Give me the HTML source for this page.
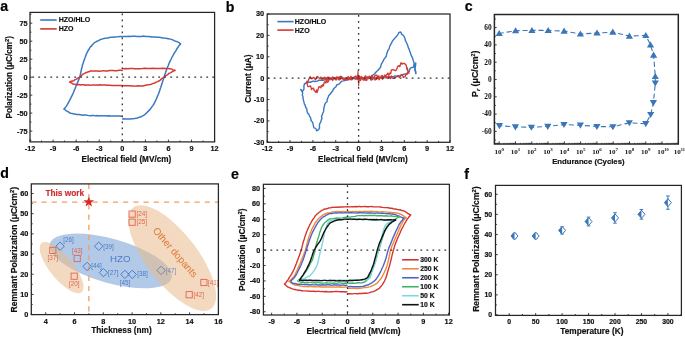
<!DOCTYPE html>
<html><head><meta charset="utf-8"><style>
html,body{margin:0;padding:0;background:#fff;}
svg{display:block;filter:blur(0.35px);}
</style></head><body>
<svg width="685" height="337" viewBox="0 0 685 337">
<rect width="685" height="337" fill="#fff"/>
<text x="0.2" y="10.9" font-family='"Liberation Sans", sans-serif' font-size="14.2" font-weight="bold" text-anchor="start" fill="#000" stroke="#000" stroke-width="0.18" >a</text>
<polyline points="64.1,109.11 65.05,109.7 66.4,110.93 67.93,111.67 69.4,112.72 70.77,113.17 72.17,113.4 73.58,113.93 75,113.97 76.19,114.4 77.23,114.38 78.61,114.53 80.8,114.86 82.37,115.16 83.94,114.91 85.85,115.07 87.77,115.38 89.98,115.64 92.19,115.56 93.83,115.53 95.46,115.88 97.1,115.47 98.64,115.92 100.18,115.67 101.72,115.64 103.26,115.67 105.06,115.8 106.87,116.09 108.67,115.8 110.47,116.04 112.14,116.1 113.82,115.99 115.49,116.11 117.16,115.9 118.71,115.92 120.25,116.03 121.8,116.2" fill="none" stroke="#3a78c0" stroke-width="1.5" stroke-linejoin="round" stroke-linecap="round" />
<polyline points="122.6,118.89 123.83,118.84 125.59,118.91 127.65,119.12 129.8,118.98 132.14,118.66 134.74,118.56 137.32,118.03 139.6,117.17 141.45,116.58 143.05,115.67 144.55,114.78 146.1,113.41 147.78,111.64 149.5,110.2 151.17,107.81 152.7,105.86 154.07,103.78 155.31,101.08 156.48,98.71 157.6,95.87 158.15,94.77 158.7,93.41 159.22,91.81 159.75,90.46 160.24,88.71 160.73,87.43 161.6,84.75 162.33,82.54 162.93,80.56 163.5,78.94 164.1,77.12 164.76,74.89 165.43,72.97 166.11,70.68 166.8,69.1 167.49,67.28 168.18,65.72 168.88,63.97 169.6,62.09 170.33,60.59 171.08,59.24 171.84,57.47 172.6,56.28 173.38,54.75 174.17,53.36 174.95,52.03 175.7,51.13 176.42,49.61 177.11,48.51 177.78,47.5 178.4,46.79 179.02,45.53 179.62,44.95 180.14,44.37 180.5,43.9" fill="none" stroke="#3a78c0" stroke-width="1.5" stroke-linejoin="round" stroke-linecap="round" />
<polyline points="180.5,44.09 180.15,43.77 179.67,43.38 179,42.6 178.1,42.16 176.96,41.57 175.59,41.2 174.01,40.61 172.2,39.63 170.3,39.12 168.27,38.67 165.83,38.21 164.26,38.11 162.7,37.94 160.66,37.55 158.61,37.18 157,37.23 155.39,37.05 153.77,36.99 152.07,37.05 150.36,36.78 148.65,36.56 147,36.53 145.35,36.47 143.7,36.08 142.03,36.49 140.36,36.42 138.68,36.45 136.95,36.46 135.21,36.3 133.47,36.34 131.88,36.26 130.29,36.58 128.7,36.36 126.85,36.42 125,36.55 122.9,36.56 121.96,36.65 121.28,36.51 120,36.55 117.76,36.77 115.06,36.94 112.34,37.3 110,37.36 108.2,38.01 106.69,38.11 105.34,38.13 104,38.48 102.66,38.87 101.38,39.25 100.16,39.55 99,40.37 97.92,40.95 96.91,41.23 95.94,41.83 95,42.29 94.08,43.03 93.19,43.95 92.33,44.77 91.5,45.96 90.71,46.59 89.95,47.52 89.22,49.06 88.5,50.01 87.79,51.08 87.11,52.63 86.44,53.79 85.8,55.51 85.19,57.28 84.61,58.84 84.04,60.41 83.5,61.88 82.97,63.63 82.46,65.26 81.97,67.33 81.5,69.02 81.11,70.95 80.77,72.55 80.37,74.4 79.8,76.76 78.97,79.15 77.95,81.59 76.88,84.08 75.9,86.46 75.05,88.58 74.26,90.36 73.47,92.5 72.6,94.43 71.64,96.33 70.62,98.41 69.56,100.57 68.5,102.48 67.32,104.61 66.04,106.63 64.9,108.02 64.1,109.2" fill="none" stroke="#3a78c0" stroke-width="1.5" stroke-linejoin="round" stroke-linecap="round" />
<polyline points="174.9,70.46 174.14,70.24 173.08,69.85 171.7,69.12 170,68.73 167.86,68.55 165.32,68.39 162.62,68.3 160,68.47 157.5,68.58 155,68.51 152.5,68.28 150,68.39 147.5,68.51 145,68.14 142.5,68.55 140,68.75 137.43,68.7 134.83,68.71 132.3,68.57 130,68.41 127.83,68.78 125.78,68.51 124.03,68.78 122.8,68.6" fill="none" stroke="#d23a36" stroke-width="1.5" stroke-linejoin="round" stroke-linecap="round" />
<polyline points="122.2,70.58 120.64,70.28 119.08,70.34 116.83,70.73 114.58,70.67 112.94,70.38 111.31,70.4 109.67,70.47 107.48,70.98 105.3,70.98 103.4,70.63 101.5,71.08 99.67,71.2 97.84,71.03 96.22,70.88 94.59,71.03 92,70.88 90.35,70.93 89.42,71.65 88.78,71.64 88,71.82 87,72.38 86,72.44 85,73.16 84,73.7 83.02,74.07 82.06,74.98 81.06,75.92 80,76.74 78.85,77.73 77.62,78.29 76.37,79.09 75.1,79.58 73.7,80.68 72.19,80.94 70.84,81.52 69.9,81.9" fill="none" stroke="#d23a36" stroke-width="1.5" stroke-linejoin="round" stroke-linecap="round" />
<polyline points="69.9,81.95 70.6,82.59 71.59,82.95 72.84,83.93 74.3,84.2 75.72,84.54 77.19,84.75 79.25,84.6 80.82,84.91 82.4,84.81 84.01,84.72 85.63,85.22 87.24,84.87 88.76,85.05 90.29,85.2 91.81,85.1 93.34,84.96 94.93,85.08 96.51,85.1 98.1,85.24 99.69,84.83 101.56,85.11 103.43,84.94 105.3,84.97 106.88,85.3 108.45,85.17 110.03,85.24 112.2,85.43 114.37,85.59 116.31,85.38 118.25,85.55 119.92,85.55 121.6,85.61 124.1,85.79 125.9,85.71 127.6,85.8 129.8,85.79 131.3,86.08 132.81,85.96 134.53,86.08 136.25,86.14 138,85.72 139.74,85.89 141.32,86.04 142.9,85.9 145.66,85.19 148.21,84.77 150.56,84.46 152.7,83.64 154.59,83.03 156.26,82.11 157.76,81.59 159.2,80.77 160.54,79.93 161.75,78.55 162.91,77.94 164.1,77 165.3,75.81 166.49,75.4 167.7,74.62 169,73.33 170.54,72.86 172.26,71.58 173.82,70.78 174.9,70.2" fill="none" stroke="#d23a36" stroke-width="1.5" stroke-linejoin="round" stroke-linecap="round" />
<line x1="30" y1="77.15" x2="214.6" y2="77.15" stroke="#333" stroke-width="1.3" stroke-dasharray="1.8 4.2" stroke-dashoffset="-2.3"/>
<line x1="122.3" y1="12.4" x2="122.3" y2="141.9" stroke="#333" stroke-width="1.3" stroke-dasharray="1.8 4.2" stroke-dashoffset="-1.0"/>
<rect x="30" y="12.4" width="184.6" height="129.5" fill="none" stroke="#262626" stroke-width="1.25"/>
<line x1="30" y1="131.11" x2="32.3" y2="131.11" stroke="#262626" stroke-width="0.9" />
<line x1="30" y1="113.12" x2="32.3" y2="113.12" stroke="#262626" stroke-width="0.9" />
<line x1="30" y1="95.14" x2="32.3" y2="95.14" stroke="#262626" stroke-width="0.9" />
<line x1="30" y1="77.15" x2="32.3" y2="77.15" stroke="#262626" stroke-width="0.9" />
<line x1="30" y1="59.16" x2="32.3" y2="59.16" stroke="#262626" stroke-width="0.9" />
<line x1="30" y1="41.18" x2="32.3" y2="41.18" stroke="#262626" stroke-width="0.9" />
<line x1="30" y1="23.19" x2="32.3" y2="23.19" stroke="#262626" stroke-width="0.9" />
<line x1="30" y1="140.1" x2="31.4" y2="140.1" stroke="#262626" stroke-width="0.9" />
<line x1="30" y1="122.12" x2="31.4" y2="122.12" stroke="#262626" stroke-width="0.9" />
<line x1="30" y1="104.13" x2="31.4" y2="104.13" stroke="#262626" stroke-width="0.9" />
<line x1="30" y1="86.14" x2="31.4" y2="86.14" stroke="#262626" stroke-width="0.9" />
<line x1="30" y1="68.16" x2="31.4" y2="68.16" stroke="#262626" stroke-width="0.9" />
<line x1="30" y1="50.17" x2="31.4" y2="50.17" stroke="#262626" stroke-width="0.9" />
<line x1="30" y1="32.18" x2="31.4" y2="32.18" stroke="#262626" stroke-width="0.9" />
<line x1="30" y1="14.2" x2="31.4" y2="14.2" stroke="#262626" stroke-width="0.9" />
<line x1="30" y1="141.9" x2="30" y2="139.6" stroke="#262626" stroke-width="0.9" />
<line x1="53.08" y1="141.9" x2="53.08" y2="139.6" stroke="#262626" stroke-width="0.9" />
<line x1="76.15" y1="141.9" x2="76.15" y2="139.6" stroke="#262626" stroke-width="0.9" />
<line x1="99.22" y1="141.9" x2="99.22" y2="139.6" stroke="#262626" stroke-width="0.9" />
<line x1="122.3" y1="141.9" x2="122.3" y2="139.6" stroke="#262626" stroke-width="0.9" />
<line x1="145.38" y1="141.9" x2="145.38" y2="139.6" stroke="#262626" stroke-width="0.9" />
<line x1="168.45" y1="141.9" x2="168.45" y2="139.6" stroke="#262626" stroke-width="0.9" />
<line x1="191.53" y1="141.9" x2="191.53" y2="139.6" stroke="#262626" stroke-width="0.9" />
<line x1="214.6" y1="141.9" x2="214.6" y2="139.6" stroke="#262626" stroke-width="0.9" />
<line x1="41.54" y1="141.9" x2="41.54" y2="140.5" stroke="#262626" stroke-width="0.9" />
<line x1="64.61" y1="141.9" x2="64.61" y2="140.5" stroke="#262626" stroke-width="0.9" />
<line x1="87.69" y1="141.9" x2="87.69" y2="140.5" stroke="#262626" stroke-width="0.9" />
<line x1="110.76" y1="141.9" x2="110.76" y2="140.5" stroke="#262626" stroke-width="0.9" />
<line x1="133.84" y1="141.9" x2="133.84" y2="140.5" stroke="#262626" stroke-width="0.9" />
<line x1="156.91" y1="141.9" x2="156.91" y2="140.5" stroke="#262626" stroke-width="0.9" />
<line x1="179.99" y1="141.9" x2="179.99" y2="140.5" stroke="#262626" stroke-width="0.9" />
<line x1="203.06" y1="141.9" x2="203.06" y2="140.5" stroke="#262626" stroke-width="0.9" />
<text x="27.6" y="133.51" font-family='"Liberation Sans", sans-serif' font-size="7.3" font-weight="bold" text-anchor="end" fill="#111" stroke="#111" stroke-width="0.18" >-75</text>
<text x="27.6" y="115.52" font-family='"Liberation Sans", sans-serif' font-size="7.3" font-weight="bold" text-anchor="end" fill="#111" stroke="#111" stroke-width="0.18" >-50</text>
<text x="27.6" y="97.54" font-family='"Liberation Sans", sans-serif' font-size="7.3" font-weight="bold" text-anchor="end" fill="#111" stroke="#111" stroke-width="0.18" >-25</text>
<text x="27.6" y="79.55" font-family='"Liberation Sans", sans-serif' font-size="7.3" font-weight="bold" text-anchor="end" fill="#111" stroke="#111" stroke-width="0.18" >0</text>
<text x="27.6" y="61.56" font-family='"Liberation Sans", sans-serif' font-size="7.3" font-weight="bold" text-anchor="end" fill="#111" stroke="#111" stroke-width="0.18" >25</text>
<text x="27.6" y="43.58" font-family='"Liberation Sans", sans-serif' font-size="7.3" font-weight="bold" text-anchor="end" fill="#111" stroke="#111" stroke-width="0.18" >50</text>
<text x="27.6" y="25.59" font-family='"Liberation Sans", sans-serif' font-size="7.3" font-weight="bold" text-anchor="end" fill="#111" stroke="#111" stroke-width="0.18" >75</text>
<text x="30" y="150.9" font-family='"Liberation Sans", sans-serif' font-size="7.3" font-weight="bold" text-anchor="middle" fill="#111" stroke="#111" stroke-width="0.18" >-12</text>
<text x="53.08" y="150.9" font-family='"Liberation Sans", sans-serif' font-size="7.3" font-weight="bold" text-anchor="middle" fill="#111" stroke="#111" stroke-width="0.18" >-9</text>
<text x="76.15" y="150.9" font-family='"Liberation Sans", sans-serif' font-size="7.3" font-weight="bold" text-anchor="middle" fill="#111" stroke="#111" stroke-width="0.18" >-6</text>
<text x="99.22" y="150.9" font-family='"Liberation Sans", sans-serif' font-size="7.3" font-weight="bold" text-anchor="middle" fill="#111" stroke="#111" stroke-width="0.18" >-3</text>
<text x="122.3" y="150.9" font-family='"Liberation Sans", sans-serif' font-size="7.3" font-weight="bold" text-anchor="middle" fill="#111" stroke="#111" stroke-width="0.18" >0</text>
<text x="145.38" y="150.9" font-family='"Liberation Sans", sans-serif' font-size="7.3" font-weight="bold" text-anchor="middle" fill="#111" stroke="#111" stroke-width="0.18" >3</text>
<text x="168.45" y="150.9" font-family='"Liberation Sans", sans-serif' font-size="7.3" font-weight="bold" text-anchor="middle" fill="#111" stroke="#111" stroke-width="0.18" >6</text>
<text x="191.53" y="150.9" font-family='"Liberation Sans", sans-serif' font-size="7.3" font-weight="bold" text-anchor="middle" fill="#111" stroke="#111" stroke-width="0.18" >9</text>
<text x="214.6" y="150.9" font-family='"Liberation Sans", sans-serif' font-size="7.3" font-weight="bold" text-anchor="middle" fill="#111" stroke="#111" stroke-width="0.18" >12</text>
<text x="81.6" y="161.7" font-family='"Liberation Sans", sans-serif' font-size="8.2" font-weight="bold" text-anchor="start" fill="#111" stroke="#111" stroke-width="0.18" >Electrical field (MV/cm)</text>
<text transform="translate(12.3,77.2) rotate(-90)" font-family='"Liberation Sans", sans-serif' font-size="8.2" font-weight="bold" text-anchor="middle" fill="#111" stroke="#111" stroke-width="0.18">Polarization (μC/cm<tspan dy="-3" font-size="5.8">2</tspan><tspan dy="3">)</tspan></text>
<line x1="40.2" y1="20" x2="56.7" y2="20" stroke="#3a78c0" stroke-width="1.6" />
<line x1="40.2" y1="28.9" x2="56.7" y2="28.9" stroke="#d23a36" stroke-width="1.6" />
<text x="58.7" y="22.4" font-family='"Liberation Sans", sans-serif' font-size="7.0" font-weight="bold" text-anchor="start" fill="#111" stroke="#111" stroke-width="0.18" >HZO/HLO</text>
<text x="58.7" y="31.3" font-family='"Liberation Sans", sans-serif' font-size="7.0" font-weight="bold" text-anchor="start" fill="#111" stroke="#111" stroke-width="0.18" >HZO</text>
<text x="225.8" y="11.7" font-family='"Liberation Sans", sans-serif' font-size="14.2" font-weight="bold" text-anchor="start" fill="#000" stroke="#000" stroke-width="0.18" >b</text>
<polyline points="301.29,89.73 301.24,90.48 302.52,91.34 302.81,90.95 303.82,89.52 304.04,88.03 303.82,85.83 304.61,84.33 304.36,83.59 305.91,83.27 306.2,82.57 306.88,82.93 308.17,82.03 310.35,82.26 313.12,81.06 314.68,81.49 317.37,81.1 319.02,80.18 322.19,80.13 323.25,80.23 325.49,79.68 327.26,79.34 329.57,78.96 331.75,78.38 333.65,78.91 335.16,78.06 337.21,78.11 338.75,78.01 340.64,78.04 342.86,78.12 345.26,78.09 346.75,77.94 348.35,77.75 350,77.71 352.23,78.21 353.69,78.08 356.43,77.66 358.32,77.93 359.95,78.24 361.81,77.83 365.19,78.08 366.55,77.88 368.62,77.63 371.3,76.85 372.94,75.07 374.57,73.74 376.54,71.48 378.08,70.24 380.41,67.48 381.28,64.24 382.74,61.89 384.06,59.15 384.94,58.02 386.42,55.97 386.47,54.68 387.31,52.36 387.74,50.72 388.96,49.18 389.39,47.65 389.9,45.86 391.34,43.42 392.54,40.82 393.87,39.19 395.19,37.83 396.53,36.23 397.72,34.88 398.61,32.93 400.38,31.95 401.16,32.81 401.54,34.14 403.7,35.73 404.83,38.11 405.25,40.12 406.5,42.83 407.66,45.26 408.28,47.69 409.28,49.64 409.73,51.03 410.53,53.22 411.4,55.94 412.34,57.43 412.89,59.19 413.22,60.41 414,63.05 414.15,64.74 414.76,66.17 415.19,68.01 414.87,69.67 415.78,71.6 415.6,73" fill="none" stroke="#3a78c0" stroke-width="1.4" stroke-linejoin="round" stroke-linecap="round" />
<polyline points="415.89,73.57 415.14,70.64 414.77,68.22 415.63,65.33 415.77,62.99 414.08,64.85 413.29,67.27 411.94,67.47 410.07,68.42 409.29,71.22 407.21,73.15 405.47,73.99 403.86,74.2 402.42,74.72 400.57,76.02 397.82,75.69 397.18,76.54 395.13,75.94 393.11,76.95 391.38,76.7 389.57,76.83 388.88,76.54 387.05,77.18 385.46,77.6 383.01,77.98 381.65,77.08 379.4,77.79 378.32,77.64 376.32,77.78 374.9,78.45 372.82,78.4 372.12,77.69 370.51,78.46 368.44,78 365.76,78.17 364.47,78.45 361.75,78.31 359.69,77.91 357.52,78.9 355.51,79.13 353.23,78.43 351.78,78.48 349.85,79.55 348.04,79.69 345.66,80.4 343.59,80.88 341.94,81.12 340.58,82.44 338.88,84.2 336.59,85.01 336.18,86.42 334.45,88 333.06,89.79 332.78,90.83 331.31,92.5 330.11,94.23 328.73,95.6 327.86,98.14 327.3,98.96 326.98,101.82 325.62,102.72 324.72,104.59 324.31,106.51 323.75,108.34 323.72,110.71 323.5,111.77 322.7,113.51 322.25,114.9 321.47,116.43 322.05,118.18 320.97,120.71 320.92,121.93 319.73,123.7 319.38,125.82 319.54,128.19 318.45,129.93 316.44,130.8 316.47,129.47 315.14,128.13 313.87,127.81 313.19,124.88 312.72,122.42 311.03,120.59 310.83,119.47 310.64,117.78 309.58,116.07 308.65,114.06 307.45,112.68 306.99,111.19 306.83,108.86 305.55,107.2 305.56,106.18 304.33,103.86 303.83,101.6 303.07,98.79 302.92,96.41 302.29,94.9 302.75,93.17 301.92,90.92 300.8,89.4" fill="none" stroke="#3a78c0" stroke-width="1.4" stroke-linejoin="round" stroke-linecap="round" />
<polyline points="306.6,82.15 306.97,81.2 307.54,82.4 308.4,80.34 309.2,78.23 310.29,76.76 311.13,78.38 311.96,78.92 312.8,77.91 313.74,77.31 314.67,78.77 315.61,79.68 316.55,77.15 317.48,76.43 318.35,77.54 319.23,77.84 320.1,78.8 320.97,77.06 321.84,79.23 322.71,79.03 323.59,78.2 324.39,77.12 325.19,79.87 325.99,77.51 326.79,79.34 327.59,77.22 328.4,77.19 329.2,79.13 330,77.46 330.81,79.81 331.61,78.16 332.42,77.04 333.23,77.16 334.04,77.84 334.84,78.72 335.65,79.73 336.46,76.83 337.31,77.7 338.15,77.04 339,79.76 339.84,76.74 340.69,76.4 341.54,76.41 342.38,77.6 343.23,79.4 344.08,79.32 344.92,78.76 345.77,79.69 346.61,79.44 347.46,77.25 348.31,76.71 349.15,79.39 350,78.69 350.85,76.1 351.71,78.35 352.56,77.3 353.41,77.27 354.27,77.1 355.12,76.49 355.98,75.87 356.83,76.85 357.68,77.09 358.54,79.24 359.39,76.22 360.24,79.23 361.1,76.48 361.95,76.99 362.81,78.65 363.66,78.63 364.57,77.19 365.47,75.77 366.38,77.26 367.28,76.86 368.19,78.79 369.09,76.13 370,76.71 370.85,78.58 371.7,75.41 372.55,76.73 373.39,78.13 374.24,77.92 375.09,75.26 375.94,75.19 376.85,75.22 377.76,78.23 378.67,75.78 379.58,77.47 380.48,77.94 381.39,75.86 382.23,75.49 383.08,77.83 383.92,76.48 384.76,75.07 385.6,76.58 386.37,74.81 387.14,74.34 387.91,73.03 388.44,75.14 388.98,75.12 390,72.98 390.69,73.63 391.38,69.86 392.72,69.77 394,69.81 395.2,70.77 396.35,70.02 397.5,67.09 398.09,66.01 398.68,66.06 399.27,65.63 399.86,66.54 401,62.76 402.15,64.15 403.26,63.3 404.2,63.46 404.87,63.83 405.36,64.25 405.8,64.38 406.2,65.47 406.56,66.86 407,69.72 407.33,68.02 407.65,69.28 408.02,72.17 408.38,71.23 408.9,73.4" fill="none" stroke="#d23a36" stroke-width="1.35" stroke-linejoin="round" stroke-linecap="round" />
<polyline points="408.9,71.83 407.95,72.15 407,74.45 406.04,74.04 405.08,76.8 404.12,76.85 403.29,77.43 402.47,75.04 401.65,74.59 400.82,74.84 400,76.49 399.17,77.35 398.33,76.49 397.5,75.82 396.66,76.56 395.83,77.39 394.99,77.67 394.16,78.03 393.27,78.44 392.39,77.84 391.5,75.95 390.62,78.59 389.73,76.68 388.85,77.72 387.96,77.08 387.08,78.45 386.19,76.56 385.31,76.79 384.42,76.83 383.54,76.55 382.65,79.23 381.77,78.18 380.88,77.32 380,77.63 379.17,79.82 378.33,78.13 377.5,77.18 376.67,79.31 375.83,78.8 375,80.06 374.17,76.92 373.33,78.31 372.5,79.59 371.67,79.71 370.83,80.02 370,76.91 369.17,77.87 368.33,77.28 367.5,77.58 366.67,80.44 365.83,79.07 365,80.35 364.17,78.38 363.33,80.19 362.5,78.72 361.67,78.07 360.83,79.97 360,80.6 359.12,77.6 358.24,79.39 357.36,79.49 356.48,78.07 355.6,78.63 354.72,77.83 353.84,78.08 352.96,78.28 352.08,79.54 351.2,79.73 350.32,78.13 349.44,77.45 348.56,78.6 347.69,79.88 346.81,78.11 345.93,78.58 345.08,78.19 344.23,80.33 343.39,79.45 342.54,77.71 341.69,77.85 340.85,78.92 340,79.48 339.15,79.77 338.31,77.76 337.46,77.99 336.61,79.87 335.76,78.8 334.72,78.28 333.68,78.29 332.64,80.55 331.76,78.33 330.88,79.34 330,78.69 329.23,79.31 328.46,81.33 327.69,82.21 327.08,80.51 326.47,80.49 325.87,82.97 325.13,81.81 324.4,81.82 323.35,85.88 322.66,84.71 322,86.65 321.35,85.6 320.73,87.71 319.9,86.96 319.27,86.72 318.65,87.02 318.16,89.63 317.67,90.62 317.19,92.27 316.54,89.92 315.9,92.44 314.97,91.21 314.21,90.55 313.5,88.23 312.84,88.18 312.23,88.61 311.5,89.53 310.53,85.83 309.46,86.33 308.5,86.6 307.71,86.28 307.05,82.63 306.6,83.1" fill="none" stroke="#d23a36" stroke-width="1.35" stroke-linejoin="round" stroke-linecap="round" />
<polyline points="357.5,78 358,70.8 358.6,86 359.2,77" fill="none" stroke="#d23a36" stroke-width="1.1" stroke-linejoin="round" stroke-linecap="round" />
<line x1="267.2" y1="78.15" x2="450" y2="78.15" stroke="#333" stroke-width="1.3" stroke-dasharray="1.8 4.2" stroke-dashoffset="-0.5"/>
<line x1="358.6" y1="14" x2="358.6" y2="142.3" stroke="#333" stroke-width="1.3" stroke-dasharray="1.8 4.2" stroke-dashoffset="-1.0"/>
<rect x="267.2" y="14" width="182.8" height="128.3" fill="none" stroke="#262626" stroke-width="1.25"/>
<line x1="267.2" y1="142.3" x2="269.5" y2="142.3" stroke="#262626" stroke-width="0.9" />
<line x1="267.2" y1="120.92" x2="269.5" y2="120.92" stroke="#262626" stroke-width="0.9" />
<line x1="267.2" y1="99.53" x2="269.5" y2="99.53" stroke="#262626" stroke-width="0.9" />
<line x1="267.2" y1="78.15" x2="269.5" y2="78.15" stroke="#262626" stroke-width="0.9" />
<line x1="267.2" y1="56.77" x2="269.5" y2="56.77" stroke="#262626" stroke-width="0.9" />
<line x1="267.2" y1="35.38" x2="269.5" y2="35.38" stroke="#262626" stroke-width="0.9" />
<line x1="267.2" y1="14" x2="269.5" y2="14" stroke="#262626" stroke-width="0.9" />
<line x1="267.2" y1="131.61" x2="268.6" y2="131.61" stroke="#262626" stroke-width="0.9" />
<line x1="267.2" y1="110.23" x2="268.6" y2="110.23" stroke="#262626" stroke-width="0.9" />
<line x1="267.2" y1="88.84" x2="268.6" y2="88.84" stroke="#262626" stroke-width="0.9" />
<line x1="267.2" y1="67.46" x2="268.6" y2="67.46" stroke="#262626" stroke-width="0.9" />
<line x1="267.2" y1="46.08" x2="268.6" y2="46.08" stroke="#262626" stroke-width="0.9" />
<line x1="267.2" y1="24.69" x2="268.6" y2="24.69" stroke="#262626" stroke-width="0.9" />
<line x1="267.2" y1="142.3" x2="267.2" y2="140" stroke="#262626" stroke-width="0.9" />
<line x1="290.05" y1="142.3" x2="290.05" y2="140" stroke="#262626" stroke-width="0.9" />
<line x1="312.9" y1="142.3" x2="312.9" y2="140" stroke="#262626" stroke-width="0.9" />
<line x1="335.75" y1="142.3" x2="335.75" y2="140" stroke="#262626" stroke-width="0.9" />
<line x1="358.6" y1="142.3" x2="358.6" y2="140" stroke="#262626" stroke-width="0.9" />
<line x1="381.45" y1="142.3" x2="381.45" y2="140" stroke="#262626" stroke-width="0.9" />
<line x1="404.3" y1="142.3" x2="404.3" y2="140" stroke="#262626" stroke-width="0.9" />
<line x1="427.15" y1="142.3" x2="427.15" y2="140" stroke="#262626" stroke-width="0.9" />
<line x1="450" y1="142.3" x2="450" y2="140" stroke="#262626" stroke-width="0.9" />
<line x1="278.62" y1="142.3" x2="278.62" y2="140.9" stroke="#262626" stroke-width="0.9" />
<line x1="301.48" y1="142.3" x2="301.48" y2="140.9" stroke="#262626" stroke-width="0.9" />
<line x1="324.32" y1="142.3" x2="324.32" y2="140.9" stroke="#262626" stroke-width="0.9" />
<line x1="347.18" y1="142.3" x2="347.18" y2="140.9" stroke="#262626" stroke-width="0.9" />
<line x1="370.02" y1="142.3" x2="370.02" y2="140.9" stroke="#262626" stroke-width="0.9" />
<line x1="392.88" y1="142.3" x2="392.88" y2="140.9" stroke="#262626" stroke-width="0.9" />
<line x1="415.73" y1="142.3" x2="415.73" y2="140.9" stroke="#262626" stroke-width="0.9" />
<line x1="438.57" y1="142.3" x2="438.57" y2="140.9" stroke="#262626" stroke-width="0.9" />
<text x="264.2" y="144.7" font-family='"Liberation Sans", sans-serif' font-size="7.3" font-weight="bold" text-anchor="end" fill="#111" stroke="#111" stroke-width="0.18" >-30</text>
<text x="264.2" y="123.32" font-family='"Liberation Sans", sans-serif' font-size="7.3" font-weight="bold" text-anchor="end" fill="#111" stroke="#111" stroke-width="0.18" >-20</text>
<text x="264.2" y="101.93" font-family='"Liberation Sans", sans-serif' font-size="7.3" font-weight="bold" text-anchor="end" fill="#111" stroke="#111" stroke-width="0.18" >-10</text>
<text x="264.2" y="80.55" font-family='"Liberation Sans", sans-serif' font-size="7.3" font-weight="bold" text-anchor="end" fill="#111" stroke="#111" stroke-width="0.18" >0</text>
<text x="264.2" y="59.17" font-family='"Liberation Sans", sans-serif' font-size="7.3" font-weight="bold" text-anchor="end" fill="#111" stroke="#111" stroke-width="0.18" >10</text>
<text x="264.2" y="37.78" font-family='"Liberation Sans", sans-serif' font-size="7.3" font-weight="bold" text-anchor="end" fill="#111" stroke="#111" stroke-width="0.18" >20</text>
<text x="264.2" y="16.4" font-family='"Liberation Sans", sans-serif' font-size="7.3" font-weight="bold" text-anchor="end" fill="#111" stroke="#111" stroke-width="0.18" >30</text>
<text x="267.2" y="151" font-family='"Liberation Sans", sans-serif' font-size="7.3" font-weight="bold" text-anchor="middle" fill="#111" stroke="#111" stroke-width="0.18" >-12</text>
<text x="290.05" y="151" font-family='"Liberation Sans", sans-serif' font-size="7.3" font-weight="bold" text-anchor="middle" fill="#111" stroke="#111" stroke-width="0.18" >-9</text>
<text x="312.9" y="151" font-family='"Liberation Sans", sans-serif' font-size="7.3" font-weight="bold" text-anchor="middle" fill="#111" stroke="#111" stroke-width="0.18" >-6</text>
<text x="335.75" y="151" font-family='"Liberation Sans", sans-serif' font-size="7.3" font-weight="bold" text-anchor="middle" fill="#111" stroke="#111" stroke-width="0.18" >-3</text>
<text x="358.6" y="151" font-family='"Liberation Sans", sans-serif' font-size="7.3" font-weight="bold" text-anchor="middle" fill="#111" stroke="#111" stroke-width="0.18" >0</text>
<text x="381.45" y="151" font-family='"Liberation Sans", sans-serif' font-size="7.3" font-weight="bold" text-anchor="middle" fill="#111" stroke="#111" stroke-width="0.18" >3</text>
<text x="404.3" y="151" font-family='"Liberation Sans", sans-serif' font-size="7.3" font-weight="bold" text-anchor="middle" fill="#111" stroke="#111" stroke-width="0.18" >6</text>
<text x="427.15" y="151" font-family='"Liberation Sans", sans-serif' font-size="7.3" font-weight="bold" text-anchor="middle" fill="#111" stroke="#111" stroke-width="0.18" >9</text>
<text x="450" y="151" font-family='"Liberation Sans", sans-serif' font-size="7.3" font-weight="bold" text-anchor="middle" fill="#111" stroke="#111" stroke-width="0.18" >12</text>
<text x="318" y="162" font-family='"Liberation Sans", sans-serif' font-size="8.2" font-weight="bold" text-anchor="start" fill="#111" stroke="#111" stroke-width="0.18" >Electrical field (MV/cm)</text>
<text transform="translate(251.2,78.7) rotate(-90)" font-family='"Liberation Sans", sans-serif' font-size="8.2" font-weight="bold" text-anchor="middle" fill="#111" stroke="#111" stroke-width="0.18">Current (μA)</text>
<line x1="277.4" y1="21.6" x2="293.6" y2="21.6" stroke="#3a78c0" stroke-width="1.6" />
<line x1="277.4" y1="30.1" x2="293.6" y2="30.1" stroke="#d23a36" stroke-width="1.6" />
<text x="294.8" y="24.1" font-family='"Liberation Sans", sans-serif' font-size="7.0" font-weight="bold" text-anchor="start" fill="#111" stroke="#111" stroke-width="0.18" >HZO/HLO</text>
<text x="294.8" y="32.6" font-family='"Liberation Sans", sans-serif' font-size="7.0" font-weight="bold" text-anchor="start" fill="#111" stroke="#111" stroke-width="0.18" >HZO</text>
<text x="464.7" y="11.2" font-family='"Liberation Sans", sans-serif' font-size="14.2" font-weight="bold" text-anchor="start" fill="#000" stroke="#000" stroke-width="0.18" >c</text>
<polyline points="499.2,33.5 515.6,30.7 531.9,30.4 548.2,30.4 564.1,31.1 580.4,34 597,33 612.8,32.1 629.4,36.1 645.8,35.4 650.5,44.9 653.6,55.1 655.3,76.5 655.3,83 653.4,102.7 650.7,114.6 645.8,123.7 629.3,122.8 612.9,126.8 596.9,126.5 580.4,125.2 564,124.6 547.8,126.4 531.4,127.3 515.4,126.9 499.4,125.7" fill="none" stroke="#3a76b8" stroke-width="1.1" stroke-linejoin="round" stroke-linecap="round" stroke-dasharray="4.2 3.8"/>
<polygon points="499.2,30 495.6,36.1 502.8,36.1" fill="#3a76b8"/>
<polygon points="515.6,27.2 512,33.3 519.2,33.3" fill="#3a76b8"/>
<polygon points="531.9,26.9 528.3,33 535.5,33" fill="#3a76b8"/>
<polygon points="548.2,26.9 544.6,33 551.8,33" fill="#3a76b8"/>
<polygon points="564.1,27.6 560.5,33.7 567.7,33.7" fill="#3a76b8"/>
<polygon points="580.4,30.5 576.8,36.6 584,36.6" fill="#3a76b8"/>
<polygon points="597,29.5 593.4,35.6 600.6,35.6" fill="#3a76b8"/>
<polygon points="612.8,28.6 609.2,34.7 616.4,34.7" fill="#3a76b8"/>
<polygon points="629.4,32.6 625.8,38.7 633,38.7" fill="#3a76b8"/>
<polygon points="645.8,31.9 642.2,38 649.4,38" fill="#3a76b8"/>
<polygon points="650.5,41.4 646.9,47.5 654.1,47.5" fill="#3a76b8"/>
<polygon points="653.6,51.6 650,57.7 657.2,57.7" fill="#3a76b8"/>
<polygon points="655.3,73 651.7,79.1 658.9,79.1" fill="#3a76b8"/>
<polygon points="499.4,129.2 495.8,123.1 503,123.1" fill="#3a76b8"/>
<polygon points="515.4,130.4 511.8,124.3 519,124.3" fill="#3a76b8"/>
<polygon points="531.4,130.8 527.8,124.7 535,124.7" fill="#3a76b8"/>
<polygon points="547.8,129.9 544.2,123.8 551.4,123.8" fill="#3a76b8"/>
<polygon points="564,128.1 560.4,122 567.6,122" fill="#3a76b8"/>
<polygon points="580.4,128.7 576.8,122.6 584,122.6" fill="#3a76b8"/>
<polygon points="596.9,130 593.3,123.9 600.5,123.9" fill="#3a76b8"/>
<polygon points="612.9,130.3 609.3,124.2 616.5,124.2" fill="#3a76b8"/>
<polygon points="629.3,126.3 625.7,120.2 632.9,120.2" fill="#3a76b8"/>
<polygon points="645.8,127.2 642.2,121.1 649.4,121.1" fill="#3a76b8"/>
<polygon points="650.7,118.1 647.1,112 654.3,112" fill="#3a76b8"/>
<polygon points="653.4,106.2 649.8,100.1 657,100.1" fill="#3a76b8"/>
<polygon points="655.3,86.5 651.7,80.4 658.9,80.4" fill="#3a76b8"/>
<rect x="494.4" y="14.5" width="183.9" height="129.5" fill="none" stroke="#262626" stroke-width="1.5"/>
<line x1="494.4" y1="131.4" x2="496.7" y2="131.4" stroke="#262626" stroke-width="0.9" />
<line x1="494.4" y1="114.1" x2="496.7" y2="114.1" stroke="#262626" stroke-width="0.9" />
<line x1="494.4" y1="96.8" x2="496.7" y2="96.8" stroke="#262626" stroke-width="0.9" />
<line x1="494.4" y1="79.5" x2="496.7" y2="79.5" stroke="#262626" stroke-width="0.9" />
<line x1="494.4" y1="62.2" x2="496.7" y2="62.2" stroke="#262626" stroke-width="0.9" />
<line x1="494.4" y1="44.9" x2="496.7" y2="44.9" stroke="#262626" stroke-width="0.9" />
<line x1="494.4" y1="27.6" x2="496.7" y2="27.6" stroke="#262626" stroke-width="0.9" />
<line x1="494.4" y1="140.05" x2="495.8" y2="140.05" stroke="#262626" stroke-width="0.9" />
<line x1="494.4" y1="122.75" x2="495.8" y2="122.75" stroke="#262626" stroke-width="0.9" />
<line x1="494.4" y1="105.45" x2="495.8" y2="105.45" stroke="#262626" stroke-width="0.9" />
<line x1="494.4" y1="88.15" x2="495.8" y2="88.15" stroke="#262626" stroke-width="0.9" />
<line x1="494.4" y1="70.85" x2="495.8" y2="70.85" stroke="#262626" stroke-width="0.9" />
<line x1="494.4" y1="53.55" x2="495.8" y2="53.55" stroke="#262626" stroke-width="0.9" />
<line x1="494.4" y1="36.25" x2="495.8" y2="36.25" stroke="#262626" stroke-width="0.9" />
<line x1="494.4" y1="18.95" x2="495.8" y2="18.95" stroke="#262626" stroke-width="0.9" />
<line x1="499.2" y1="144" x2="499.2" y2="141.4" stroke="#262626" stroke-width="0.9" />
<line x1="515.49" y1="144" x2="515.49" y2="141.4" stroke="#262626" stroke-width="0.9" />
<line x1="531.78" y1="144" x2="531.78" y2="141.4" stroke="#262626" stroke-width="0.9" />
<line x1="548.07" y1="144" x2="548.07" y2="141.4" stroke="#262626" stroke-width="0.9" />
<line x1="564.36" y1="144" x2="564.36" y2="141.4" stroke="#262626" stroke-width="0.9" />
<line x1="580.65" y1="144" x2="580.65" y2="141.4" stroke="#262626" stroke-width="0.9" />
<line x1="596.94" y1="144" x2="596.94" y2="141.4" stroke="#262626" stroke-width="0.9" />
<line x1="613.23" y1="144" x2="613.23" y2="141.4" stroke="#262626" stroke-width="0.9" />
<line x1="629.52" y1="144" x2="629.52" y2="141.4" stroke="#262626" stroke-width="0.9" />
<line x1="645.81" y1="144" x2="645.81" y2="141.4" stroke="#262626" stroke-width="0.9" />
<line x1="662.1" y1="144" x2="662.1" y2="141.4" stroke="#262626" stroke-width="0.9" />
<line x1="678.39" y1="144" x2="678.39" y2="141.4" stroke="#262626" stroke-width="0.9" />
<line x1="495.59" y1="144" x2="495.59" y2="142.8" stroke="#262626" stroke-width="0.7" />
<line x1="496.68" y1="144" x2="496.68" y2="142.8" stroke="#262626" stroke-width="0.7" />
<line x1="497.62" y1="144" x2="497.62" y2="142.8" stroke="#262626" stroke-width="0.7" />
<line x1="498.45" y1="144" x2="498.45" y2="142.8" stroke="#262626" stroke-width="0.7" />
<line x1="504.1" y1="144" x2="504.1" y2="142.8" stroke="#262626" stroke-width="0.7" />
<line x1="506.97" y1="144" x2="506.97" y2="142.8" stroke="#262626" stroke-width="0.7" />
<line x1="509.01" y1="144" x2="509.01" y2="142.8" stroke="#262626" stroke-width="0.7" />
<line x1="510.59" y1="144" x2="510.59" y2="142.8" stroke="#262626" stroke-width="0.7" />
<line x1="511.88" y1="144" x2="511.88" y2="142.8" stroke="#262626" stroke-width="0.7" />
<line x1="512.97" y1="144" x2="512.97" y2="142.8" stroke="#262626" stroke-width="0.7" />
<line x1="513.91" y1="144" x2="513.91" y2="142.8" stroke="#262626" stroke-width="0.7" />
<line x1="514.74" y1="144" x2="514.74" y2="142.8" stroke="#262626" stroke-width="0.7" />
<line x1="520.39" y1="144" x2="520.39" y2="142.8" stroke="#262626" stroke-width="0.7" />
<line x1="523.26" y1="144" x2="523.26" y2="142.8" stroke="#262626" stroke-width="0.7" />
<line x1="525.3" y1="144" x2="525.3" y2="142.8" stroke="#262626" stroke-width="0.7" />
<line x1="526.88" y1="144" x2="526.88" y2="142.8" stroke="#262626" stroke-width="0.7" />
<line x1="528.17" y1="144" x2="528.17" y2="142.8" stroke="#262626" stroke-width="0.7" />
<line x1="529.26" y1="144" x2="529.26" y2="142.8" stroke="#262626" stroke-width="0.7" />
<line x1="530.2" y1="144" x2="530.2" y2="142.8" stroke="#262626" stroke-width="0.7" />
<line x1="531.03" y1="144" x2="531.03" y2="142.8" stroke="#262626" stroke-width="0.7" />
<line x1="536.68" y1="144" x2="536.68" y2="142.8" stroke="#262626" stroke-width="0.7" />
<line x1="539.55" y1="144" x2="539.55" y2="142.8" stroke="#262626" stroke-width="0.7" />
<line x1="541.59" y1="144" x2="541.59" y2="142.8" stroke="#262626" stroke-width="0.7" />
<line x1="543.17" y1="144" x2="543.17" y2="142.8" stroke="#262626" stroke-width="0.7" />
<line x1="544.46" y1="144" x2="544.46" y2="142.8" stroke="#262626" stroke-width="0.7" />
<line x1="545.55" y1="144" x2="545.55" y2="142.8" stroke="#262626" stroke-width="0.7" />
<line x1="546.49" y1="144" x2="546.49" y2="142.8" stroke="#262626" stroke-width="0.7" />
<line x1="547.32" y1="144" x2="547.32" y2="142.8" stroke="#262626" stroke-width="0.7" />
<line x1="552.97" y1="144" x2="552.97" y2="142.8" stroke="#262626" stroke-width="0.7" />
<line x1="555.84" y1="144" x2="555.84" y2="142.8" stroke="#262626" stroke-width="0.7" />
<line x1="557.88" y1="144" x2="557.88" y2="142.8" stroke="#262626" stroke-width="0.7" />
<line x1="559.46" y1="144" x2="559.46" y2="142.8" stroke="#262626" stroke-width="0.7" />
<line x1="560.75" y1="144" x2="560.75" y2="142.8" stroke="#262626" stroke-width="0.7" />
<line x1="561.84" y1="144" x2="561.84" y2="142.8" stroke="#262626" stroke-width="0.7" />
<line x1="562.78" y1="144" x2="562.78" y2="142.8" stroke="#262626" stroke-width="0.7" />
<line x1="563.61" y1="144" x2="563.61" y2="142.8" stroke="#262626" stroke-width="0.7" />
<line x1="569.26" y1="144" x2="569.26" y2="142.8" stroke="#262626" stroke-width="0.7" />
<line x1="572.13" y1="144" x2="572.13" y2="142.8" stroke="#262626" stroke-width="0.7" />
<line x1="574.17" y1="144" x2="574.17" y2="142.8" stroke="#262626" stroke-width="0.7" />
<line x1="575.75" y1="144" x2="575.75" y2="142.8" stroke="#262626" stroke-width="0.7" />
<line x1="577.04" y1="144" x2="577.04" y2="142.8" stroke="#262626" stroke-width="0.7" />
<line x1="578.13" y1="144" x2="578.13" y2="142.8" stroke="#262626" stroke-width="0.7" />
<line x1="579.07" y1="144" x2="579.07" y2="142.8" stroke="#262626" stroke-width="0.7" />
<line x1="579.9" y1="144" x2="579.9" y2="142.8" stroke="#262626" stroke-width="0.7" />
<line x1="585.55" y1="144" x2="585.55" y2="142.8" stroke="#262626" stroke-width="0.7" />
<line x1="588.42" y1="144" x2="588.42" y2="142.8" stroke="#262626" stroke-width="0.7" />
<line x1="590.46" y1="144" x2="590.46" y2="142.8" stroke="#262626" stroke-width="0.7" />
<line x1="592.04" y1="144" x2="592.04" y2="142.8" stroke="#262626" stroke-width="0.7" />
<line x1="593.33" y1="144" x2="593.33" y2="142.8" stroke="#262626" stroke-width="0.7" />
<line x1="594.42" y1="144" x2="594.42" y2="142.8" stroke="#262626" stroke-width="0.7" />
<line x1="595.36" y1="144" x2="595.36" y2="142.8" stroke="#262626" stroke-width="0.7" />
<line x1="596.19" y1="144" x2="596.19" y2="142.8" stroke="#262626" stroke-width="0.7" />
<line x1="601.84" y1="144" x2="601.84" y2="142.8" stroke="#262626" stroke-width="0.7" />
<line x1="604.71" y1="144" x2="604.71" y2="142.8" stroke="#262626" stroke-width="0.7" />
<line x1="606.75" y1="144" x2="606.75" y2="142.8" stroke="#262626" stroke-width="0.7" />
<line x1="608.33" y1="144" x2="608.33" y2="142.8" stroke="#262626" stroke-width="0.7" />
<line x1="609.62" y1="144" x2="609.62" y2="142.8" stroke="#262626" stroke-width="0.7" />
<line x1="610.71" y1="144" x2="610.71" y2="142.8" stroke="#262626" stroke-width="0.7" />
<line x1="611.65" y1="144" x2="611.65" y2="142.8" stroke="#262626" stroke-width="0.7" />
<line x1="612.48" y1="144" x2="612.48" y2="142.8" stroke="#262626" stroke-width="0.7" />
<line x1="618.13" y1="144" x2="618.13" y2="142.8" stroke="#262626" stroke-width="0.7" />
<line x1="621" y1="144" x2="621" y2="142.8" stroke="#262626" stroke-width="0.7" />
<line x1="623.04" y1="144" x2="623.04" y2="142.8" stroke="#262626" stroke-width="0.7" />
<line x1="624.62" y1="144" x2="624.62" y2="142.8" stroke="#262626" stroke-width="0.7" />
<line x1="625.91" y1="144" x2="625.91" y2="142.8" stroke="#262626" stroke-width="0.7" />
<line x1="627" y1="144" x2="627" y2="142.8" stroke="#262626" stroke-width="0.7" />
<line x1="627.94" y1="144" x2="627.94" y2="142.8" stroke="#262626" stroke-width="0.7" />
<line x1="628.77" y1="144" x2="628.77" y2="142.8" stroke="#262626" stroke-width="0.7" />
<line x1="634.42" y1="144" x2="634.42" y2="142.8" stroke="#262626" stroke-width="0.7" />
<line x1="637.29" y1="144" x2="637.29" y2="142.8" stroke="#262626" stroke-width="0.7" />
<line x1="639.33" y1="144" x2="639.33" y2="142.8" stroke="#262626" stroke-width="0.7" />
<line x1="640.91" y1="144" x2="640.91" y2="142.8" stroke="#262626" stroke-width="0.7" />
<line x1="642.2" y1="144" x2="642.2" y2="142.8" stroke="#262626" stroke-width="0.7" />
<line x1="643.29" y1="144" x2="643.29" y2="142.8" stroke="#262626" stroke-width="0.7" />
<line x1="644.23" y1="144" x2="644.23" y2="142.8" stroke="#262626" stroke-width="0.7" />
<line x1="645.06" y1="144" x2="645.06" y2="142.8" stroke="#262626" stroke-width="0.7" />
<line x1="650.71" y1="144" x2="650.71" y2="142.8" stroke="#262626" stroke-width="0.7" />
<line x1="653.58" y1="144" x2="653.58" y2="142.8" stroke="#262626" stroke-width="0.7" />
<line x1="655.62" y1="144" x2="655.62" y2="142.8" stroke="#262626" stroke-width="0.7" />
<line x1="657.2" y1="144" x2="657.2" y2="142.8" stroke="#262626" stroke-width="0.7" />
<line x1="658.49" y1="144" x2="658.49" y2="142.8" stroke="#262626" stroke-width="0.7" />
<line x1="659.58" y1="144" x2="659.58" y2="142.8" stroke="#262626" stroke-width="0.7" />
<line x1="660.52" y1="144" x2="660.52" y2="142.8" stroke="#262626" stroke-width="0.7" />
<line x1="661.35" y1="144" x2="661.35" y2="142.8" stroke="#262626" stroke-width="0.7" />
<line x1="667" y1="144" x2="667" y2="142.8" stroke="#262626" stroke-width="0.7" />
<line x1="669.87" y1="144" x2="669.87" y2="142.8" stroke="#262626" stroke-width="0.7" />
<line x1="671.91" y1="144" x2="671.91" y2="142.8" stroke="#262626" stroke-width="0.7" />
<line x1="673.49" y1="144" x2="673.49" y2="142.8" stroke="#262626" stroke-width="0.7" />
<line x1="674.78" y1="144" x2="674.78" y2="142.8" stroke="#262626" stroke-width="0.7" />
<line x1="675.87" y1="144" x2="675.87" y2="142.8" stroke="#262626" stroke-width="0.7" />
<line x1="676.81" y1="144" x2="676.81" y2="142.8" stroke="#262626" stroke-width="0.7" />
<line x1="677.64" y1="144" x2="677.64" y2="142.8" stroke="#262626" stroke-width="0.7" />
<text x="491.6" y="133.7" font-family='"Liberation Serif", serif' font-size="7.4" font-weight="bold" text-anchor="end" fill="#111" >-60</text>
<text x="491.6" y="116.4" font-family='"Liberation Serif", serif' font-size="7.4" font-weight="bold" text-anchor="end" fill="#111" >-40</text>
<text x="491.6" y="99.1" font-family='"Liberation Serif", serif' font-size="7.4" font-weight="bold" text-anchor="end" fill="#111" >20</text>
<text x="491.6" y="81.8" font-family='"Liberation Serif", serif' font-size="7.4" font-weight="bold" text-anchor="end" fill="#111" >0</text>
<text x="491.6" y="64.5" font-family='"Liberation Serif", serif' font-size="7.4" font-weight="bold" text-anchor="end" fill="#111" >20</text>
<text x="491.6" y="47.2" font-family='"Liberation Serif", serif' font-size="7.4" font-weight="bold" text-anchor="end" fill="#111" >40</text>
<text x="491.6" y="29.9" font-family='"Liberation Serif", serif' font-size="7.4" font-weight="bold" text-anchor="end" fill="#111" >60</text>
<text x="498" y="154" font-family='"Liberation Serif", serif' font-size="7.1" font-weight="bold" text-anchor="middle" fill="#111" >10</text>
<text x="501.5" y="150.9" font-family='"Liberation Serif", serif' font-size="5.0" font-weight="bold" text-anchor="start" fill="#111" >0</text>
<text x="514.29" y="154" font-family='"Liberation Serif", serif' font-size="7.1" font-weight="bold" text-anchor="middle" fill="#111" >10</text>
<text x="517.79" y="150.9" font-family='"Liberation Serif", serif' font-size="5.0" font-weight="bold" text-anchor="start" fill="#111" >1</text>
<text x="530.58" y="154" font-family='"Liberation Serif", serif' font-size="7.1" font-weight="bold" text-anchor="middle" fill="#111" >10</text>
<text x="534.08" y="150.9" font-family='"Liberation Serif", serif' font-size="5.0" font-weight="bold" text-anchor="start" fill="#111" >2</text>
<text x="546.87" y="154" font-family='"Liberation Serif", serif' font-size="7.1" font-weight="bold" text-anchor="middle" fill="#111" >10</text>
<text x="550.37" y="150.9" font-family='"Liberation Serif", serif' font-size="5.0" font-weight="bold" text-anchor="start" fill="#111" >3</text>
<text x="563.16" y="154" font-family='"Liberation Serif", serif' font-size="7.1" font-weight="bold" text-anchor="middle" fill="#111" >10</text>
<text x="566.66" y="150.9" font-family='"Liberation Serif", serif' font-size="5.0" font-weight="bold" text-anchor="start" fill="#111" >4</text>
<text x="579.45" y="154" font-family='"Liberation Serif", serif' font-size="7.1" font-weight="bold" text-anchor="middle" fill="#111" >10</text>
<text x="582.95" y="150.9" font-family='"Liberation Serif", serif' font-size="5.0" font-weight="bold" text-anchor="start" fill="#111" >5</text>
<text x="595.74" y="154" font-family='"Liberation Serif", serif' font-size="7.1" font-weight="bold" text-anchor="middle" fill="#111" >10</text>
<text x="599.24" y="150.9" font-family='"Liberation Serif", serif' font-size="5.0" font-weight="bold" text-anchor="start" fill="#111" >6</text>
<text x="612.03" y="154" font-family='"Liberation Serif", serif' font-size="7.1" font-weight="bold" text-anchor="middle" fill="#111" >10</text>
<text x="615.53" y="150.9" font-family='"Liberation Serif", serif' font-size="5.0" font-weight="bold" text-anchor="start" fill="#111" >7</text>
<text x="628.32" y="154" font-family='"Liberation Serif", serif' font-size="7.1" font-weight="bold" text-anchor="middle" fill="#111" >10</text>
<text x="631.82" y="150.9" font-family='"Liberation Serif", serif' font-size="5.0" font-weight="bold" text-anchor="start" fill="#111" >8</text>
<text x="644.61" y="154" font-family='"Liberation Serif", serif' font-size="7.1" font-weight="bold" text-anchor="middle" fill="#111" >10</text>
<text x="648.11" y="150.9" font-family='"Liberation Serif", serif' font-size="5.0" font-weight="bold" text-anchor="start" fill="#111" >9</text>
<text x="660.9" y="154" font-family='"Liberation Serif", serif' font-size="7.1" font-weight="bold" text-anchor="middle" fill="#111" >10</text>
<text x="664.4" y="150.9" font-family='"Liberation Serif", serif' font-size="4.4" font-weight="bold" text-anchor="start" fill="#111" >10</text>
<text x="677.19" y="154" font-family='"Liberation Serif", serif' font-size="7.1" font-weight="bold" text-anchor="middle" fill="#111" >10</text>
<text x="680.69" y="150.9" font-family='"Liberation Serif", serif' font-size="4.4" font-weight="bold" text-anchor="start" fill="#111" >11</text>
<text x="552.2" y="164" font-family='"Liberation Sans", sans-serif' font-size="7.75" font-weight="bold" text-anchor="start" fill="#111" stroke="#111" stroke-width="0.18" >Endurance (Cycles)</text>
<text transform="translate(477.6,73.8) rotate(-90)" font-family='"Liberation Sans", sans-serif' font-size="8.9" font-weight="bold" text-anchor="middle" fill="#111" stroke="#111" stroke-width="0.18">P<tspan dy="2.3" font-size="5.6" font-style="italic">r</tspan><tspan dy="-2.3"> (μC/cm</tspan><tspan dy="-2.6" font-size="5.1">2</tspan><tspan dy="2.6">)</tspan></text>
<text x="0.2" y="178.4" font-family='"Liberation Sans", sans-serif' font-size="14.2" font-weight="bold" text-anchor="start" fill="#000" stroke="#000" stroke-width="0.18" >d</text>
<ellipse cx="110.7" cy="260.9" rx="63.2" ry="22.1" transform="rotate(15.9 110.7 260.9)" fill="#b3c9e8"/>
<ellipse cx="61.6" cy="267.6" rx="31.7" ry="11.6" transform="rotate(50.8 61.6 267.6)" fill="#e8b98a" fill-opacity="0.55"/>
<ellipse cx="172.2" cy="258.1" rx="63.9" ry="25.4" transform="rotate(52.3 172.2 258.1)" fill="#e8b98a" fill-opacity="0.55"/>
<line x1="31.3" y1="202.2" x2="218.4" y2="202.2" stroke="#f0a060" stroke-width="1.3" stroke-dasharray="5.2 5"/>
<line x1="88.87" y1="183.9" x2="88.87" y2="314.6" stroke="#f0a060" stroke-width="1.3" stroke-dasharray="5.2 5"/>
<polygon points="60.1,242 64.3,246.2 60.1,250.4 55.9,246.2" fill="none" stroke="#4a7cc4" stroke-width="1.0"/>
<polygon points="98.7,242 102.9,246.2 98.7,250.4 94.5,246.2" fill="none" stroke="#4a7cc4" stroke-width="1.0"/>
<polygon points="87.1,262.2 91.3,266.4 87.1,270.6 82.9,266.4" fill="none" stroke="#4a7cc4" stroke-width="1.0"/>
<polygon points="103.5,268.4 107.7,272.6 103.5,276.8 99.3,272.6" fill="none" stroke="#4a7cc4" stroke-width="1.0"/>
<polygon points="124.9,270.2 129.1,274.4 124.9,278.6 120.7,274.4" fill="none" stroke="#4a7cc4" stroke-width="1.0"/>
<polygon points="132.2,270.2 136.4,274.4 132.2,278.6 128,274.4" fill="none" stroke="#4a7cc4" stroke-width="1.0"/>
<polygon points="161.1,266.2 165.3,270.4 161.1,274.6 156.9,270.4" fill="none" stroke="#7483b4" stroke-width="1.0"/>
<rect x="49.7" y="247.3" width="6.2" height="6.2" fill="none" stroke="#e26650" stroke-width="0.9"/>
<rect x="74.1" y="255.4" width="6.2" height="6.2" fill="none" stroke="#e26650" stroke-width="0.9"/>
<rect x="71.1" y="273.1" width="6.2" height="6.2" fill="none" stroke="#e26650" stroke-width="0.9"/>
<rect x="129" y="211" width="6.2" height="6.2" fill="none" stroke="#e26650" stroke-width="0.9"/>
<rect x="129" y="219.1" width="6.2" height="6.2" fill="none" stroke="#e26650" stroke-width="0.9"/>
<rect x="200.8" y="279.4" width="6.2" height="6.2" fill="none" stroke="#e26650" stroke-width="0.9"/>
<rect x="186.1" y="291.6" width="6.2" height="6.2" fill="none" stroke="#e26650" stroke-width="0.9"/>
<text x="63.2" y="242.4" font-family='"Liberation Sans", sans-serif' font-size="6.3" font-weight="normal" text-anchor="start" fill="#4a7cc4" >[26]</text>
<text x="103.3" y="248.6" font-family='"Liberation Sans", sans-serif' font-size="6.3" font-weight="normal" text-anchor="start" fill="#4a7cc4" >[39]</text>
<text x="91.2" y="268" font-family='"Liberation Sans", sans-serif' font-size="6.3" font-weight="normal" text-anchor="start" fill="#4a7cc4" >[44]</text>
<text x="108" y="274.8" font-family='"Liberation Sans", sans-serif' font-size="6.3" font-weight="normal" text-anchor="start" fill="#4a7cc4" >[27]</text>
<text x="124.9" y="285.2" font-family='"Liberation Sans", sans-serif' font-size="6.3" font-weight="normal" text-anchor="middle" fill="#4a7cc4" >[45]</text>
<text x="137.2" y="276.4" font-family='"Liberation Sans", sans-serif' font-size="6.3" font-weight="normal" text-anchor="start" fill="#4a7cc4" >[38]</text>
<text x="165.7" y="272.6" font-family='"Liberation Sans", sans-serif' font-size="6.3" font-weight="normal" text-anchor="start" fill="#7a86b0" >[47]</text>
<text x="52.8" y="259.8" font-family='"Liberation Sans", sans-serif' font-size="6.3" font-weight="normal" text-anchor="middle" fill="#e26650" >[37]</text>
<text x="77.2" y="253.3" font-family='"Liberation Sans", sans-serif' font-size="6.3" font-weight="normal" text-anchor="middle" fill="#e26650" >[43]</text>
<text x="74.2" y="286.3" font-family='"Liberation Sans", sans-serif' font-size="6.3" font-weight="normal" text-anchor="middle" fill="#e26650" >[20]</text>
<text x="136.6" y="216.3" font-family='"Liberation Sans", sans-serif' font-size="6.3" font-weight="normal" text-anchor="start" fill="#e26650" >[24]</text>
<text x="136.6" y="224.4" font-family='"Liberation Sans", sans-serif' font-size="6.3" font-weight="normal" text-anchor="start" fill="#e26650" >[25]</text>
<text x="208" y="284.6" font-family='"Liberation Sans", sans-serif' font-size="6.3" font-weight="normal" text-anchor="start" fill="#e26650" >[41]</text>
<text x="193.4" y="296.8" font-family='"Liberation Sans", sans-serif' font-size="6.3" font-weight="normal" text-anchor="start" fill="#e26650" >[42]</text>
<text x="110" y="262.4" font-family='"Liberation Sans", sans-serif' font-size="9.7" font-weight="normal" text-anchor="start" fill="#4a7cc4" >HZO</text>
<text transform="translate(152.2,231) rotate(49) " font-family='"Liberation Sans", sans-serif' font-size="9.9" fill="#e27a3a">Other dopants</text>
<polygon points="88.8,196.4 90.15,200.14 94.13,200.27 90.99,202.71 92.09,206.53 88.8,204.3 85.51,206.53 86.61,202.71 83.47,200.27 87.45,200.14" fill="#d42b2b"/>
<text x="45.4" y="196.1" font-family='"Liberation Sans", sans-serif' font-size="8.3" font-weight="bold" text-anchor="start" fill="#cc2e2e" stroke="#cc2e2e" stroke-width="0.18" >This work</text>
<rect x="31.3" y="183.9" width="187.1" height="130.7" fill="none" stroke="#262626" stroke-width="1.25"/>
<line x1="31.3" y1="314.6" x2="33.6" y2="314.6" stroke="#262626" stroke-width="0.9" />
<line x1="31.3" y1="294.42" x2="33.6" y2="294.42" stroke="#262626" stroke-width="0.9" />
<line x1="31.3" y1="274.24" x2="33.6" y2="274.24" stroke="#262626" stroke-width="0.9" />
<line x1="31.3" y1="254.06" x2="33.6" y2="254.06" stroke="#262626" stroke-width="0.9" />
<line x1="31.3" y1="233.88" x2="33.6" y2="233.88" stroke="#262626" stroke-width="0.9" />
<line x1="31.3" y1="213.7" x2="33.6" y2="213.7" stroke="#262626" stroke-width="0.9" />
<line x1="31.3" y1="193.52" x2="33.6" y2="193.52" stroke="#262626" stroke-width="0.9" />
<line x1="31.3" y1="304.51" x2="32.7" y2="304.51" stroke="#262626" stroke-width="0.9" />
<line x1="31.3" y1="284.33" x2="32.7" y2="284.33" stroke="#262626" stroke-width="0.9" />
<line x1="31.3" y1="264.15" x2="32.7" y2="264.15" stroke="#262626" stroke-width="0.9" />
<line x1="31.3" y1="243.97" x2="32.7" y2="243.97" stroke="#262626" stroke-width="0.9" />
<line x1="31.3" y1="223.79" x2="32.7" y2="223.79" stroke="#262626" stroke-width="0.9" />
<line x1="31.3" y1="203.61" x2="32.7" y2="203.61" stroke="#262626" stroke-width="0.9" />
<line x1="45.69" y1="314.6" x2="45.69" y2="312.3" stroke="#262626" stroke-width="0.9" />
<line x1="74.48" y1="314.6" x2="74.48" y2="312.3" stroke="#262626" stroke-width="0.9" />
<line x1="103.26" y1="314.6" x2="103.26" y2="312.3" stroke="#262626" stroke-width="0.9" />
<line x1="132.05" y1="314.6" x2="132.05" y2="312.3" stroke="#262626" stroke-width="0.9" />
<line x1="160.83" y1="314.6" x2="160.83" y2="312.3" stroke="#262626" stroke-width="0.9" />
<line x1="189.62" y1="314.6" x2="189.62" y2="312.3" stroke="#262626" stroke-width="0.9" />
<line x1="218.4" y1="314.6" x2="218.4" y2="312.3" stroke="#262626" stroke-width="0.9" />
<line x1="31.3" y1="314.6" x2="31.3" y2="313.2" stroke="#262626" stroke-width="0.9" />
<line x1="60.08" y1="314.6" x2="60.08" y2="313.2" stroke="#262626" stroke-width="0.9" />
<line x1="88.87" y1="314.6" x2="88.87" y2="313.2" stroke="#262626" stroke-width="0.9" />
<line x1="117.65" y1="314.6" x2="117.65" y2="313.2" stroke="#262626" stroke-width="0.9" />
<line x1="146.44" y1="314.6" x2="146.44" y2="313.2" stroke="#262626" stroke-width="0.9" />
<line x1="175.22" y1="314.6" x2="175.22" y2="313.2" stroke="#262626" stroke-width="0.9" />
<line x1="204.01" y1="314.6" x2="204.01" y2="313.2" stroke="#262626" stroke-width="0.9" />
<text x="28.4" y="317" font-family='"Liberation Sans", sans-serif' font-size="7.3" font-weight="bold" text-anchor="end" fill="#111" stroke="#111" stroke-width="0.18" >0</text>
<text x="28.4" y="296.82" font-family='"Liberation Sans", sans-serif' font-size="7.3" font-weight="bold" text-anchor="end" fill="#111" stroke="#111" stroke-width="0.18" >10</text>
<text x="28.4" y="276.64" font-family='"Liberation Sans", sans-serif' font-size="7.3" font-weight="bold" text-anchor="end" fill="#111" stroke="#111" stroke-width="0.18" >20</text>
<text x="28.4" y="256.46" font-family='"Liberation Sans", sans-serif' font-size="7.3" font-weight="bold" text-anchor="end" fill="#111" stroke="#111" stroke-width="0.18" >30</text>
<text x="28.4" y="236.28" font-family='"Liberation Sans", sans-serif' font-size="7.3" font-weight="bold" text-anchor="end" fill="#111" stroke="#111" stroke-width="0.18" >40</text>
<text x="28.4" y="216.1" font-family='"Liberation Sans", sans-serif' font-size="7.3" font-weight="bold" text-anchor="end" fill="#111" stroke="#111" stroke-width="0.18" >50</text>
<text x="28.4" y="195.92" font-family='"Liberation Sans", sans-serif' font-size="7.3" font-weight="bold" text-anchor="end" fill="#111" stroke="#111" stroke-width="0.18" >60</text>
<text x="45.69" y="324.2" font-family='"Liberation Sans", sans-serif' font-size="7.3" font-weight="bold" text-anchor="middle" fill="#111" stroke="#111" stroke-width="0.18" >4</text>
<text x="74.48" y="324.2" font-family='"Liberation Sans", sans-serif' font-size="7.3" font-weight="bold" text-anchor="middle" fill="#111" stroke="#111" stroke-width="0.18" >6</text>
<text x="103.26" y="324.2" font-family='"Liberation Sans", sans-serif' font-size="7.3" font-weight="bold" text-anchor="middle" fill="#111" stroke="#111" stroke-width="0.18" >8</text>
<text x="132.05" y="324.2" font-family='"Liberation Sans", sans-serif' font-size="7.3" font-weight="bold" text-anchor="middle" fill="#111" stroke="#111" stroke-width="0.18" >10</text>
<text x="160.83" y="324.2" font-family='"Liberation Sans", sans-serif' font-size="7.3" font-weight="bold" text-anchor="middle" fill="#111" stroke="#111" stroke-width="0.18" >12</text>
<text x="189.62" y="324.2" font-family='"Liberation Sans", sans-serif' font-size="7.3" font-weight="bold" text-anchor="middle" fill="#111" stroke="#111" stroke-width="0.18" >14</text>
<text x="218.4" y="324.2" font-family='"Liberation Sans", sans-serif' font-size="7.3" font-weight="bold" text-anchor="middle" fill="#111" stroke="#111" stroke-width="0.18" >16</text>
<text x="91.2" y="332.7" font-family='"Liberation Sans", sans-serif' font-size="8.25" font-weight="bold" text-anchor="start" fill="#111" stroke="#111" stroke-width="0.18" >Thickness (nm)</text>
<text transform="translate(17.4,249.7) rotate(-90)" font-family='"Liberation Sans", sans-serif' font-size="8.6" font-weight="bold" text-anchor="middle" fill="#111" stroke="#111" stroke-width="0.18">Remnant Polarization (μC/cm<tspan dy="-3" font-size="5.8">2</tspan><tspan dy="3">)</tspan></text>
<text x="231" y="178.5" font-family='"Liberation Sans", sans-serif' font-size="14.2" font-weight="bold" text-anchor="start" fill="#000" stroke="#000" stroke-width="0.18" >e</text>
<polyline points="410.6,214.85 409.43,214.41 407.76,213.32 405.81,211.95 403.8,210.82 401.85,210.5 399.82,209.77 397.55,209.52 394.9,208.95 393.34,208.78 391.79,208.26 390.05,208.26 388.31,207.79 386.43,207.64 384.55,207.59 382.57,207.41 380.6,206.97 378.44,206.87 376.28,206.83 374.72,206.83 373.16,206.73 371.61,206.57 370.06,206.6 368.52,206.76 366.98,206.8 364.89,206.44 362.8,206.62 360.99,206.7 359.18,206.41 357.55,206.76 355.91,206.5 354.4,206.73 352.89,206.75 350,206.85 347.26,206.79 344.7,206.91 342.29,207.05 340,207.07 337.78,207.24 335.66,207.24 333.71,207.34 332,207.31 330.63,207.73 329.53,207.88 328.54,208.02 327.5,208.51 326.37,208.8 325.24,208.99 324.14,209.24 323.1,209.79 322.14,210.16 321.24,210.76 320.37,211.51 319.5,212.04 318.6,212.84 317.7,213.56 316.82,214.11 316,215.15 315.24,215.83 314.54,217.07 313.86,218.1 313.2,219 312.56,219.79 311.96,220.93 311.35,221.89 310.7,223.28 309.99,224.29 309.25,226.04 308.51,227.63 307.8,229.09 307.14,230.71 306.51,232.08 305.9,234.07 305.3,235.6 304.7,237.59 304.11,239.44 303.54,241.03 303,243.12 302.55,244.88 302.18,246.16 301.76,247.99 301.2,250.1 300.47,252.11 299.64,254.86 298.71,257.22 297.7,260.13 297.15,261.31 296.59,262.9 295.99,264.61 295.38,265.88 294.76,267.41 294.13,269.02 292.9,271.63 291.67,273.79 290.42,275.85 289.21,277.64 288.1,279.57 287.05,280.99 286.05,282.44 285.2,283.27 284.6,284.2" fill="none" stroke="#d5352f" stroke-width="1.4" stroke-linejoin="round" stroke-linecap="round" />
<polyline points="284.6,284.31 285.43,284.76 286.58,285.95 288.09,287.1 290,287.94 292.28,288.92 294.93,289.5 296.47,289.82 298.01,290.25 299.81,290.19 301.6,290.8 303.66,290.83 305.72,290.92 307.26,291.16 308.8,291.02 310.34,291.39 312.03,291.28 313.73,291.25 315.42,291.46 317.24,291.38 319.07,291.32 320.9,291.6 322.56,291.35 324.23,291.69 325.89,291.49 327.56,291.68 329.08,291.83 330.6,291.69 332.12,291.74 333.64,291.61 335.16,291.51 336.9,291.53 338.65,291.59 340.4,291.79 342.15,291.73 343.77,291.78 345.38,291.94 347,291.8" fill="none" stroke="#d5352f" stroke-width="1.4" stroke-linejoin="round" stroke-linecap="round" />
<polyline points="348,293.75 350.47,293.76 352.25,293.91 354.04,293.64 355.97,293.59 357.91,293.69 359.6,293.52 361.3,293.54 364.03,293.3 366.52,293.22 368.84,292.88 371.1,292.18 373.33,291.59 375.49,290.61 377.5,289.36 379.3,288.37 380.85,286.58 382.19,284.83 383.39,282.91 384.5,281.06 385.52,278.82 386.42,276.23 387.24,273.46 388,270.91 388.72,268.43 389.38,266.34 389.97,264.08 390.5,261.94 390.95,260.23 391.31,258.51 391.65,257.17 392,255.59 392.38,253.94 392.75,252.82 393.12,251.13 393.5,250.01 393.86,248.7 394.2,247.43 394.57,246.13 395,245.11 395.52,243.35 396.11,242.02 396.71,240.63 397.3,238.86 397.86,237.55 398.42,236.45 398.97,235.19 399.5,234.06 400.02,232.94 400.52,231.53 401.02,230.47 401.5,229.42 401.96,228.37 402.41,227.84 402.85,226.96 403.3,226.09 403.76,224.92 404.23,224.37 404.71,223.45 405.2,222.49 405.68,221.8 406.16,220.93 406.69,220.06 407.3,219.14 408.12,218.09 409.08,216.77 409.98,215.73 410.6,215" fill="none" stroke="#d5352f" stroke-width="1.4" stroke-linejoin="round" stroke-linecap="round" />
<polyline points="406.3,217.8 405.59,217.28 404.59,216.63 403.37,215.79 402,214.91 400.8,214.42 399.63,213.79 397.87,213.4 396.39,213.05 394.9,212.71 393.33,212.71 391.76,212.69 390.2,212.24 388.2,212.37 386.21,211.89 384.21,211.85 382.6,211.76 380.99,211.88 379.38,211.88 377.77,211.72 376.25,211.49 374.74,211.66 373.22,211.39 371.7,211.3 369.76,211.54 367.82,211.41 365.87,211.42 363.91,211.43 361.94,211.58 359.97,211.4 358.15,211.59 356.33,211.57 354.5,211.67 353,211.53 351.5,211.67 350,211.63 348.44,211.52 346.88,211.48 344.76,211.61 342.99,211.38 340.9,211.76 338.25,211.56 335.42,211.64 332.66,211.89 330.2,212.57 328.08,212.89 326.19,213.51 324.52,214.21 323.1,214.92 321.99,215.8 321.17,216.37 320.49,216.98 319.8,217.59 319.1,217.91 318.46,218.69 317.83,219.21 317.2,220.13 316.54,221.01 315.88,222.03 315.23,222.76 314.6,224.15 313.99,225.27 313.4,226.43 312.83,227.24 312.3,228.38 311.8,229.39 311.34,230.38 310.9,231.69 310.5,232.62 310.14,233.45 309.81,234.38 309.51,235.15 309.2,235.91 308.9,236.78 308.6,237.75 308.3,239.02 308,239.88 307.68,241.11 307.36,242.41 307.03,243.53 306.7,244.9 306.39,246.16 306.09,247.59 305.77,248.7 305.4,249.93 304.97,251.44 304.49,252.5 304,253.89 303.5,255.05 303.03,256.02 302.57,257.34 302.07,258.58 301.5,260.11 300.86,261.49 300.16,263.3 299.39,265.04 298.5,266.89 297.47,269.45 296.32,271.72 295.11,274.52 293.9,276.37 292.58,277.94 291.16,279.37 289.89,280.65 289,281.3" fill="none" stroke="#f08a3c" stroke-width="1.4" stroke-linejoin="round" stroke-linecap="round" />
<polyline points="289,281.49 290.02,281.86 291.44,283.15 293.34,284.3 295.8,285.32 298.57,285.64 300.13,285.97 301.69,286.11 303.7,286.45 305.71,286.36 307.54,286.72 309.37,286.53 311.2,286.59 312.87,286.82 314.54,286.77 316.21,286.66 317.88,286.9 319.55,286.72 321.06,287.02 322.56,287 324.06,287.05 325.56,287 327.06,286.91 328.56,286.94 330.06,286.95 331.73,287.16 333.4,286.85 335.08,287.18 336.75,286.84 338.42,286.93 340.09,286.96 341.82,287.23 343.54,287.08 345.27,287.04 347,287.1" fill="none" stroke="#f08a3c" stroke-width="1.4" stroke-linejoin="round" stroke-linecap="round" />
<polyline points="348,288.45 350.43,288.23 352.18,288.36 353.93,288.42 355.86,288.5 357.79,288.5 359.54,288.36 361.3,288.14 362.86,287.93 364.42,287.66 365.95,287.66 367.48,287.31 370.32,286.65 372.8,285.57 374.81,284.69 376.46,283.71 377.9,282.34 379.3,280.65 380.67,279.02 381.93,277.21 383.1,274.81 384.2,272.58 385.21,270.36 386.13,268.18 386.99,265.75 387.8,262.76 388.17,261.22 388.54,259.71 388.86,258.05 389.19,256.43 389.52,254.6 389.86,252.98 390.23,251.4 390.6,250.19 391.45,247.52 392.35,244.98 393.3,243.12 394.3,240.44 395.35,237.99 396.46,235.56 397.58,232.84 398.7,230.29 399.83,227.72 400.97,225.2 402.08,223.17 403.1,221.14 404.06,219.83 404.98,218.9 405.75,218.04 406.3,217.7" fill="none" stroke="#f08a3c" stroke-width="1.4" stroke-linejoin="round" stroke-linecap="round" />
<polyline points="403.9,218.26 401.9,217.5 400.53,216.8 399.17,216.06 397.19,215.43 395.2,214.68 393.3,214.22 391.4,214.07 389.5,213.66 387.78,213.69 386.05,213.66 384.33,213.36 382.61,213.32 380.89,213.28 379.33,213.11 377.77,213 376.21,213.16 374.65,213.19 373.09,213.11 371.53,213.05 369.98,213.07 368.4,212.99 366.83,212.96 365.25,212.87 363.68,212.8 362.1,212.92 360.53,212.69 358.95,212.81 357.16,212.94 355.37,212.91 353.58,212.87 351.79,212.71 350,212.77 348.43,212.78 346.87,212.84 345.3,212.74 343.73,212.85 342.15,212.96 340.56,212.68 338.97,212.89 337.1,213.02 335.23,212.94 333.61,213.14 332,213.49 329.36,213.65 327.51,214.57 326.12,215.19 324.9,216.11 323.86,216.73 323.14,217.05 322.57,217.36 322,218.03 321.44,218.47 320.95,218.96 320.46,219.36 319.9,220.06 319.22,220.98 318.47,221.85 317.72,222.88 317,224.18 316.34,224.99 315.69,226.32 315.08,227.36 314.5,228.61 313.95,229.4 313.44,230.76 312.95,231.49 312.5,232.32 312.09,233.31 311.72,234.21 311.36,234.91 311,235.97 310.63,236.91 310.26,237.99 309.88,238.86 309.5,239.91 309.11,241.07 308.71,242.53 308.3,243.9 307.9,245.01 307.5,246.14 307.1,247.62 306.7,248.71 306.3,249.88 305.9,251.1 305.51,252.61 305.11,253.87 304.7,255.05 304.31,256.19 303.94,257.4 303.52,258.5 303,260.19 302.38,261.5 301.68,263.31 300.89,265.19 300,267.13 298.98,269.2 297.84,271.56 296.66,274.02 295.5,275.85 294.27,277.72 292.97,278.85 291.81,280.1 291,280.7" fill="none" stroke="#4f63c4" stroke-width="1.4" stroke-linejoin="round" stroke-linecap="round" />
<polyline points="291,280.61 291.21,281.34 291.27,282.29 292.87,283.39 294.48,283.55 296.09,283.74 297.7,284.29 299.45,284.19 301.2,284.25 302.94,284.35 304.69,284.49 306.44,284.55 308.19,284.7 309.81,284.74 311.43,284.65 313.05,284.91 314.67,284.91 316.29,284.62 317.91,284.96 319.53,285.02 321.15,285 322.77,284.77 324.37,285.07 325.96,285.01 327.56,284.78 329.16,284.79 330.75,285.19 332.35,285.09 333.95,284.94 335.55,284.9 337.14,284.94 338.79,284.99 340.43,285.23 342.07,285.08 343.71,285.02 345.36,285.34 347,285.2" fill="none" stroke="#4f63c4" stroke-width="1.4" stroke-linejoin="round" stroke-linecap="round" />
<polyline points="348,286.62 350.51,286.42 352.32,286.76 354.14,286.69 356.08,286.77 358.02,286.74 359.66,286.74 361.3,286.62 363.75,286.26 365.83,285.49 367.69,285.01 369.5,284.11 371.28,283.22 372.96,281.99 374.53,280.87 376,279.22 377.36,277.33 378.6,275.3 379.77,273.1 380.9,271 382,268.52 383.06,266.27 384.06,263.64 385,261.2 385.87,258.42 386.26,256.97 386.66,255.63 387.43,252.41 388.2,250.14 388.95,247.82 389.67,245.97 390.44,244.15 391.3,242.14 392.31,239.5 393.41,236.87 394.56,234.41 395.7,231.53 396.84,229.33 397.99,226.94 399.13,224.49 400.2,222.84 401.27,221.33 402.33,220.17 403.25,218.94 403.9,218.3" fill="none" stroke="#4f63c4" stroke-width="1.4" stroke-linejoin="round" stroke-linecap="round" />
<polyline points="399.4,216.99 398.01,216.58 396.12,216.37 393.39,216.42 391.44,215.81 389.5,216.13 387.56,216.01 385.62,215.78 383.68,216.03 381.84,215.69 380.01,215.7 378.17,215.68 376.33,215.78 374.47,215.41 372.61,215.51 370.75,215.47 368.89,215.52 367.37,215.69 365.85,215.37 364.32,215.69 362.8,215.44 360.65,215.62 358.49,215.59 356.84,215.92 355.19,216.4 352.49,216.63 350,217.08 347.87,217.06 346.22,217.28 344.64,217.47 342.7,217.85 340.07,218.09 338.57,218.28 337.06,217.94 334.19,218.54 332,218.83 330.76,218.8 330.15,218.67 329.81,218.99 329.4,219 328.9,219.3 328.47,219.93 328.04,219.99 327.5,220.39 326.82,221.01 326.04,221.74 325.24,222.3 324.5,223.07 323.82,223.87 323.17,224.76 322.56,225.59 322,226.61 321.51,227.38 321.08,228.78 320.69,229.82 320.3,231.16 319.93,231.91 319.58,233.12 319.24,234.18 318.9,235.76 318.55,236.96 318.19,237.9 317.84,238.82 317.5,240.19 317.18,241.27 316.88,242.22 316.59,243.16 316.3,244.38 316.02,245.77 315.76,247.11 315.49,248.6 315.2,250.09 314.88,251.55 314.53,252.26 314.17,253.8 313.8,254.72 313.46,255.97 313.14,257.56 312.75,258.65 312.2,260.25 311.46,261.54 310.59,262.99 309.6,265.03 308.5,267.06 307.25,269.35 305.85,271.64 304.4,273.54 303,275.45 301.54,276.96 300.01,278.82 298.65,279.83 297.7,280.9" fill="none" stroke="#3fb36a" stroke-width="1.4" stroke-linejoin="round" stroke-linecap="round" />
<polyline points="297.7,280.69 298.2,280.92 298.72,281.35 300.56,282.23 302.78,282.08 305,282.78 306.51,282.3 308.01,282.81 309.52,282.41 311.03,282.39 312.54,282.86 314.04,282.62 315.6,282.94 317.15,282.64 318.7,282.59 320.25,283.05 321.8,283.04 323.35,283.16 324.9,283.11 326.46,282.75 327.98,283.1 329.5,283.17 331.03,283.04 332.55,283.35 334.07,282.96 335.59,283.41 337.12,283.28 338.64,282.88 340.31,282.91 341.98,283.32 343.66,283.44 345.33,283.02 347,283.3" fill="none" stroke="#3fb36a" stroke-width="1.4" stroke-linejoin="round" stroke-linecap="round" />
<polyline points="348,283.09 350.59,283.3 352.47,282.94 354.36,283.33 356.31,283.05 358.27,282.74 359.78,282.82 361.3,282.84 363.1,282.51 364.23,282.36 365.08,281.57 366,281.18 367.06,279.76 368.07,278.47 369.05,276.82 370,274.95 370.93,273.1 371.82,271.36 372.69,269.38 373.5,267.17 374.26,264.84 374.97,262.38 375.64,259.94 376.3,258.28 376.92,256.08 377.5,254.2 378.08,251.95 378.7,250.06 379.37,248.11 380.06,245.76 380.78,243.33 381.5,240.89 382.21,238.67 382.93,236.64 383.68,234.07 384.5,232.11 385.42,230 386.41,228.19 387.44,226.29 388.5,224.37 389.55,222.9 390.6,222.01 391.73,221.18 393,220.35 394.62,219.46 396.48,218.47 398.21,217.06 399.4,216.7" fill="none" stroke="#3fb36a" stroke-width="1.4" stroke-linejoin="round" stroke-linecap="round" />
<polyline points="395,220.43 393.21,220.38 391.43,220.36 389.64,220.2 387.86,220.04 386.07,220.23 384.45,220.17 382.82,220.09 381.2,220.14 379.57,219.87 377.95,219.73 376.32,219.88 374.69,219.94 373.07,219.66 371.41,219.84 369.75,219.88 368.09,219.56 366.42,219.67 364.76,219.67 363.1,219.54 361.44,219.4 359.78,219.38 358.15,219.55 356.52,219.54 354.89,219.37 353.26,219.2 351.63,219.45 350,219.41 348.4,219.18 346.8,219.31 345.2,219.43 343.19,219.49 342.32,219.47 340.9,219.59 338.53,219.78 336.1,219.78 333.84,219.99 332,220.27 330.71,220.8 329.82,221.01 329.14,221.56 328.5,222.16 327.88,223.15 327.38,224.15 326.93,225.34 326.5,226.9 326.08,227.73 325.69,228.69 325.33,229.96 325,231.11 324.71,232 324.46,233.33 324.23,234.39 324,235.61 323.77,236.51 323.56,237.59 323.34,239.06 323.1,240.15 322.84,241.2 322.57,242.49 322.29,243.64 322,245.11 321.71,246.22 321.41,247.68 321.1,248.86 320.8,250.13 320.5,251.44 320.2,252.4 319.9,253.57 319.6,254.88 319.32,256.09 319.04,257.24 318.75,258.46 318.4,260.02 318.05,261.63 317.71,263.05 317.23,264.91 316.5,266.66 315.45,268.32 314.15,270.7 312.7,272.71 311.2,274.35 309.6,275.99 307.86,276.72 306.12,277.67 304.5,278.46 302.91,279.28 301.33,279.76 299.96,280.12 299,280.5" fill="none" stroke="#7fd6e0" stroke-width="1.4" stroke-linejoin="round" stroke-linecap="round" />
<polyline points="299,280.48 300.62,280.36 302.25,280.67 303.88,280.68 305.5,280.36 307.12,280.28 308.75,280.36 310.33,280.39 311.92,280.61 313.5,280.6 315.08,280.57 316.67,280.25 318.25,280.53 319.83,280.5 321.42,280.47 323,280.59 324.58,280.22 326.17,280.24 327.75,280.48 329.33,280.55 330.92,280.44 332.5,280.28 334.08,280.39 335.67,280.45 337.25,280.18 338.88,280.26 340.5,280.23 342.12,280.17 343.75,280.31 345.38,280.17 347,280.3" fill="none" stroke="#7fd6e0" stroke-width="1.4" stroke-linejoin="round" stroke-linecap="round" />
<polyline points="348,280.1 349.97,280.05 351.95,280.26 353.86,280 355.78,280.29 357.69,280.09 359.65,279.95 361.61,280.23 363.57,279.87 365.73,279.76 367.9,279.35 370.05,277.83 370.97,275.46 371.39,273.25 372,270.84 372.94,269 373.85,266.75 374.71,264.39 375.5,261.98 376.2,259.48 376.81,257.13 377.4,254.44 378,252.05 378.61,249.65 379.2,247.62 379.82,245.38 380.5,243.09 380.9,241.37 381.29,239.55 381.73,237.92 382.17,235.77 382.6,233.99 383.03,232.04 383.8,229.21 384.39,227.65 384.88,226.37 385.37,225.55 386,224.9 386.78,223.95 387.66,223.39 388.63,222.36 389.7,222.09 391.04,221.19 392.58,221.07 394.01,220.62 395,220.3" fill="none" stroke="#7fd6e0" stroke-width="1.4" stroke-linejoin="round" stroke-linecap="round" />
<polyline points="395.7,219.88 394.18,219.96 392.66,219.86 391.14,219.82 389.63,219.77 388.11,219.8 386.59,220.02 384.93,220 383.27,219.93 381.61,219.57 379.95,219.62 378.29,219.83 376.63,219.46 374.97,219.7 373.31,219.49 371.81,219.74 370.3,219.33 368.8,219.62 367.3,219.4 365.8,219.3 364.3,219.22 362.8,219.52 361.3,219.37 359.8,219.21 358.16,219.29 356.53,219.45 354.9,219.15 353.27,219.27 351.63,219.08 350,219.07 348.49,219.31 346.98,219.29 345.47,219.08 343.94,219.13 343.61,219.27 342.7,219.64 340.87,219.75 339.03,219.82 337.25,220.03 335.6,220.54 334.06,221.11 332.61,221.8 331.3,222.42 330.2,222.98 329.39,223.62 328.81,224.59 328.32,225.2 327.8,226.09 327.22,226.6 326.66,227.69 326.09,228.35 325.5,229.54 324.88,230.69 324.25,231.82 323.62,232.96 323,234.66 322.44,235.85 321.91,237.41 321.35,238.56 320.7,239.87 319.92,241.42 319.04,242.48 318.15,243.63 317.3,244.95 316.5,246.29 315.71,247.3 314.97,248.76 314.3,249.98 313.72,251.26 313.21,252.35 312.75,253.84 312.3,255.13 311.89,256.4 311.51,257.43 311.13,258.83 310.7,259.95 310.21,261.33 309.69,262.26 309.12,263.83 308.5,265.18 307.87,266.35 307.22,267.74 306.47,269.26 305.5,271.01 304.11,273.12 303.26,274.85 302.41,275.91 300.81,278.42 299.7,280.3" fill="none" stroke="#111" stroke-width="1.4" stroke-linejoin="round" stroke-linecap="round" />
<polyline points="299.7,280.14 301.3,280.22 302.9,280.46 304.5,280.16 306.11,280.21 307.71,280.46 309.31,280.28 310.87,280.23 312.43,280.47 313.99,280.48 315.55,280.48 317.11,280.57 318.67,280.34 320.23,280.66 321.79,280.62 323.35,280.37 324.91,280.42 326.47,280.58 328.03,280.6 329.59,280.53 331.15,280.48 332.71,280.61 334.27,280.52 335.83,280.72 337.39,280.84 338.99,280.57 340.59,280.76 342.2,280.85 343.8,280.63 345.4,280.91 347,280.8" fill="none" stroke="#111" stroke-width="1.4" stroke-linejoin="round" stroke-linecap="round" />
<polyline points="348,280.78 349.63,280.48 351.26,280.42 352.84,280.52 354.41,280.33 355.99,280.21 357.62,280.31 359.25,280.12 360.88,279.82 362.74,279.44 364.6,279.13 366.69,278.09 367.88,276.92 368.66,275.27 369.5,273.67 370.46,271.91 371.31,270.09 372.08,267.86 372.8,266.11 373.47,264.31 374.08,262.26 374.64,259.93 375.2,257.97 375.74,256.02 376.26,253.88 376.77,251.94 377.3,249.83 377.85,248.15 378.41,246.43 378.99,244.53 379.6,242.86 380.28,241.41 381.01,239.53 381.73,237.86 382.4,236.15 382.99,234.84 383.53,233.62 384.06,232.47 384.6,231.01 385.17,230.16 385.74,228.97 386.32,228.16 386.9,227.11 387.47,226.43 388.05,225.89 388.62,225.14 389.2,224.4 389.73,223.97 390.23,223.46 390.79,223.2 391.5,222.42 392.51,221.77 393.74,221.18 394.9,220.31 395.7,220" fill="none" stroke="#111" stroke-width="1.4" stroke-linejoin="round" stroke-linecap="round" />
<line x1="263.4" y1="250.1" x2="449.4" y2="250.1" stroke="#333" stroke-width="1.3" stroke-dasharray="1.8 4.2" stroke-dashoffset="-1.0"/>
<line x1="347.5" y1="184.3" x2="347.5" y2="315" stroke="#333" stroke-width="1.3" stroke-dasharray="1.8 4.2" stroke-dashoffset="-1.0"/>
<rect x="263.4" y="184.3" width="186" height="130.7" fill="none" stroke="#262626" stroke-width="1.25"/>
<line x1="263.4" y1="311.78" x2="265.7" y2="311.78" stroke="#262626" stroke-width="0.9" />
<line x1="263.4" y1="296.36" x2="265.7" y2="296.36" stroke="#262626" stroke-width="0.9" />
<line x1="263.4" y1="280.94" x2="265.7" y2="280.94" stroke="#262626" stroke-width="0.9" />
<line x1="263.4" y1="265.52" x2="265.7" y2="265.52" stroke="#262626" stroke-width="0.9" />
<line x1="263.4" y1="250.1" x2="265.7" y2="250.1" stroke="#262626" stroke-width="0.9" />
<line x1="263.4" y1="234.68" x2="265.7" y2="234.68" stroke="#262626" stroke-width="0.9" />
<line x1="263.4" y1="219.26" x2="265.7" y2="219.26" stroke="#262626" stroke-width="0.9" />
<line x1="263.4" y1="203.84" x2="265.7" y2="203.84" stroke="#262626" stroke-width="0.9" />
<line x1="263.4" y1="188.42" x2="265.7" y2="188.42" stroke="#262626" stroke-width="0.9" />
<line x1="263.4" y1="304.07" x2="264.8" y2="304.07" stroke="#262626" stroke-width="0.9" />
<line x1="263.4" y1="288.65" x2="264.8" y2="288.65" stroke="#262626" stroke-width="0.9" />
<line x1="263.4" y1="273.23" x2="264.8" y2="273.23" stroke="#262626" stroke-width="0.9" />
<line x1="263.4" y1="257.81" x2="264.8" y2="257.81" stroke="#262626" stroke-width="0.9" />
<line x1="263.4" y1="242.39" x2="264.8" y2="242.39" stroke="#262626" stroke-width="0.9" />
<line x1="263.4" y1="226.97" x2="264.8" y2="226.97" stroke="#262626" stroke-width="0.9" />
<line x1="263.4" y1="211.55" x2="264.8" y2="211.55" stroke="#262626" stroke-width="0.9" />
<line x1="263.4" y1="196.13" x2="264.8" y2="196.13" stroke="#262626" stroke-width="0.9" />
<line x1="271.63" y1="315" x2="271.63" y2="312.7" stroke="#262626" stroke-width="0.9" />
<line x1="296.92" y1="315" x2="296.92" y2="312.7" stroke="#262626" stroke-width="0.9" />
<line x1="322.21" y1="315" x2="322.21" y2="312.7" stroke="#262626" stroke-width="0.9" />
<line x1="347.5" y1="315" x2="347.5" y2="312.7" stroke="#262626" stroke-width="0.9" />
<line x1="372.79" y1="315" x2="372.79" y2="312.7" stroke="#262626" stroke-width="0.9" />
<line x1="398.08" y1="315" x2="398.08" y2="312.7" stroke="#262626" stroke-width="0.9" />
<line x1="423.37" y1="315" x2="423.37" y2="312.7" stroke="#262626" stroke-width="0.9" />
<line x1="448.66" y1="315" x2="448.66" y2="312.7" stroke="#262626" stroke-width="0.9" />
<line x1="284.27" y1="315" x2="284.27" y2="313.6" stroke="#262626" stroke-width="0.9" />
<line x1="309.56" y1="315" x2="309.56" y2="313.6" stroke="#262626" stroke-width="0.9" />
<line x1="334.86" y1="315" x2="334.86" y2="313.6" stroke="#262626" stroke-width="0.9" />
<line x1="360.14" y1="315" x2="360.14" y2="313.6" stroke="#262626" stroke-width="0.9" />
<line x1="385.44" y1="315" x2="385.44" y2="313.6" stroke="#262626" stroke-width="0.9" />
<line x1="410.73" y1="315" x2="410.73" y2="313.6" stroke="#262626" stroke-width="0.9" />
<line x1="436.01" y1="315" x2="436.01" y2="313.6" stroke="#262626" stroke-width="0.9" />
<text x="260.2" y="314.18" font-family='"Liberation Sans", sans-serif' font-size="7.3" font-weight="bold" text-anchor="end" fill="#111" stroke="#111" stroke-width="0.18" >-80</text>
<text x="260.2" y="298.76" font-family='"Liberation Sans", sans-serif' font-size="7.3" font-weight="bold" text-anchor="end" fill="#111" stroke="#111" stroke-width="0.18" >-60</text>
<text x="260.2" y="283.34" font-family='"Liberation Sans", sans-serif' font-size="7.3" font-weight="bold" text-anchor="end" fill="#111" stroke="#111" stroke-width="0.18" >-40</text>
<text x="260.2" y="267.92" font-family='"Liberation Sans", sans-serif' font-size="7.3" font-weight="bold" text-anchor="end" fill="#111" stroke="#111" stroke-width="0.18" >-20</text>
<text x="260.2" y="252.5" font-family='"Liberation Sans", sans-serif' font-size="7.3" font-weight="bold" text-anchor="end" fill="#111" stroke="#111" stroke-width="0.18" >0</text>
<text x="260.2" y="237.08" font-family='"Liberation Sans", sans-serif' font-size="7.3" font-weight="bold" text-anchor="end" fill="#111" stroke="#111" stroke-width="0.18" >20</text>
<text x="260.2" y="221.66" font-family='"Liberation Sans", sans-serif' font-size="7.3" font-weight="bold" text-anchor="end" fill="#111" stroke="#111" stroke-width="0.18" >40</text>
<text x="260.2" y="206.24" font-family='"Liberation Sans", sans-serif' font-size="7.3" font-weight="bold" text-anchor="end" fill="#111" stroke="#111" stroke-width="0.18" >60</text>
<text x="260.2" y="190.82" font-family='"Liberation Sans", sans-serif' font-size="7.3" font-weight="bold" text-anchor="end" fill="#111" stroke="#111" stroke-width="0.18" >80</text>
<text x="271.63" y="324" font-family='"Liberation Sans", sans-serif' font-size="7.3" font-weight="bold" text-anchor="middle" fill="#111" stroke="#111" stroke-width="0.18" >-9</text>
<text x="296.92" y="324" font-family='"Liberation Sans", sans-serif' font-size="7.3" font-weight="bold" text-anchor="middle" fill="#111" stroke="#111" stroke-width="0.18" >-6</text>
<text x="322.21" y="324" font-family='"Liberation Sans", sans-serif' font-size="7.3" font-weight="bold" text-anchor="middle" fill="#111" stroke="#111" stroke-width="0.18" >-3</text>
<text x="347.5" y="324" font-family='"Liberation Sans", sans-serif' font-size="7.3" font-weight="bold" text-anchor="middle" fill="#111" stroke="#111" stroke-width="0.18" >0</text>
<text x="372.79" y="324" font-family='"Liberation Sans", sans-serif' font-size="7.3" font-weight="bold" text-anchor="middle" fill="#111" stroke="#111" stroke-width="0.18" >3</text>
<text x="398.08" y="324" font-family='"Liberation Sans", sans-serif' font-size="7.3" font-weight="bold" text-anchor="middle" fill="#111" stroke="#111" stroke-width="0.18" >6</text>
<text x="423.37" y="324" font-family='"Liberation Sans", sans-serif' font-size="7.3" font-weight="bold" text-anchor="middle" fill="#111" stroke="#111" stroke-width="0.18" >9</text>
<text x="448.66" y="324" font-family='"Liberation Sans", sans-serif' font-size="7.3" font-weight="bold" text-anchor="middle" fill="#111" stroke="#111" stroke-width="0.18" >12</text>
<text x="306.5" y="334" font-family='"Liberation Sans", sans-serif' font-size="8.3" font-weight="bold" text-anchor="start" fill="#111" stroke="#111" stroke-width="0.18" >Elecrtrical field (MV/cm)</text>
<text transform="translate(244.6,249.7) rotate(-90)" font-family='"Liberation Sans", sans-serif' font-size="8.2" font-weight="bold" text-anchor="middle" fill="#111" stroke="#111" stroke-width="0.18">Polarization (μC/cm<tspan dy="-3" font-size="5.8">2</tspan><tspan dy="3">)</tspan></text>
<line x1="402.1" y1="259.8" x2="418.7" y2="259.8" stroke="#d5352f" stroke-width="1.6" />
<text x="420.3" y="262.2" font-family='"Liberation Sans", sans-serif' font-size="6.8" font-weight="bold" text-anchor="start" fill="#111" stroke="#111" stroke-width="0.18" >300 K</text>
<line x1="402.1" y1="268.78" x2="418.7" y2="268.78" stroke="#f08a3c" stroke-width="1.6" />
<text x="420.3" y="271.18" font-family='"Liberation Sans", sans-serif' font-size="6.8" font-weight="bold" text-anchor="start" fill="#111" stroke="#111" stroke-width="0.18" >250 K</text>
<line x1="402.1" y1="277.76" x2="418.7" y2="277.76" stroke="#4f63c4" stroke-width="1.6" />
<text x="420.3" y="280.16" font-family='"Liberation Sans", sans-serif' font-size="6.8" font-weight="bold" text-anchor="start" fill="#111" stroke="#111" stroke-width="0.18" >200 K</text>
<line x1="402.1" y1="286.74" x2="418.7" y2="286.74" stroke="#3fb36a" stroke-width="1.6" />
<text x="420.3" y="289.14" font-family='"Liberation Sans", sans-serif' font-size="6.8" font-weight="bold" text-anchor="start" fill="#111" stroke="#111" stroke-width="0.18" >100 K</text>
<line x1="402.1" y1="295.72" x2="418.7" y2="295.72" stroke="#7fd6e0" stroke-width="1.6" />
<text x="420.3" y="298.12" font-family='"Liberation Sans", sans-serif' font-size="6.8" font-weight="bold" text-anchor="start" fill="#111" stroke="#111" stroke-width="0.18" >50 K</text>
<line x1="402.1" y1="304.7" x2="418.7" y2="304.7" stroke="#111" stroke-width="1.6" />
<text x="420.3" y="307.1" font-family='"Liberation Sans", sans-serif' font-size="6.8" font-weight="bold" text-anchor="start" fill="#111" stroke="#111" stroke-width="0.18" >10 K</text>
<text x="464.3" y="178.6" font-family='"Liberation Sans", sans-serif' font-size="14.2" font-weight="bold" text-anchor="start" fill="#000" stroke="#000" stroke-width="0.18" >f</text>
<line x1="514.49" y1="233.61" x2="514.49" y2="238.44" stroke="#3a76b8" stroke-width="1.0" />
<line x1="512.69" y1="233.61" x2="516.29" y2="233.61" stroke="#3a76b8" stroke-width="1.0" />
<line x1="512.69" y1="238.44" x2="516.29" y2="238.44" stroke="#3a76b8" stroke-width="1.0" />
<polygon points="514.49,232.02 517.99,236.02 514.49,240.02 510.99,236.02" fill="#fff" stroke="#3a76b8" stroke-width="1"/>
<polygon points="514.49,232.02 514.49,240.02 510.99,236.02" fill="#3a76b8"/>
<line x1="535.65" y1="233.61" x2="535.65" y2="238.44" stroke="#3a76b8" stroke-width="1.0" />
<line x1="533.85" y1="233.61" x2="537.45" y2="233.61" stroke="#3a76b8" stroke-width="1.0" />
<line x1="533.85" y1="238.44" x2="537.45" y2="238.44" stroke="#3a76b8" stroke-width="1.0" />
<polygon points="535.65,232.02 539.15,236.02 535.65,240.02 532.15,236.02" fill="#fff" stroke="#3a76b8" stroke-width="1"/>
<polygon points="535.65,232.02 535.65,240.02 532.15,236.02" fill="#3a76b8"/>
<line x1="562.1" y1="226.77" x2="562.1" y2="234.01" stroke="#3a76b8" stroke-width="1.0" />
<line x1="560.3" y1="226.77" x2="563.9" y2="226.77" stroke="#3a76b8" stroke-width="1.0" />
<line x1="560.3" y1="234.01" x2="563.9" y2="234.01" stroke="#3a76b8" stroke-width="1.0" />
<polygon points="562.1,226.39 565.6,230.39 562.1,234.39 558.6,230.39" fill="#fff" stroke="#3a76b8" stroke-width="1"/>
<polygon points="562.1,226.39 562.1,234.39 558.6,230.39" fill="#3a76b8"/>
<line x1="588.55" y1="217.11" x2="588.55" y2="225.96" stroke="#3a76b8" stroke-width="1.0" />
<line x1="586.75" y1="217.11" x2="590.35" y2="217.11" stroke="#3a76b8" stroke-width="1.0" />
<line x1="586.75" y1="225.96" x2="590.35" y2="225.96" stroke="#3a76b8" stroke-width="1.0" />
<polygon points="588.55,217.54 592.05,221.54 588.55,225.54 585.05,221.54" fill="#fff" stroke="#3a76b8" stroke-width="1"/>
<polygon points="588.55,217.54 588.55,225.54 585.05,221.54" fill="#3a76b8"/>
<line x1="615" y1="212.69" x2="615" y2="223.15" stroke="#3a76b8" stroke-width="1.0" />
<line x1="613.2" y1="212.69" x2="616.8" y2="212.69" stroke="#3a76b8" stroke-width="1.0" />
<line x1="613.2" y1="223.15" x2="616.8" y2="223.15" stroke="#3a76b8" stroke-width="1.0" />
<polygon points="615,213.92 618.5,217.92 615,221.92 611.5,217.92" fill="#fff" stroke="#3a76b8" stroke-width="1"/>
<polygon points="615,213.92 615,221.92 611.5,217.92" fill="#3a76b8"/>
<line x1="641.45" y1="209.47" x2="641.45" y2="219.12" stroke="#3a76b8" stroke-width="1.0" />
<line x1="639.65" y1="209.47" x2="643.25" y2="209.47" stroke="#3a76b8" stroke-width="1.0" />
<line x1="639.65" y1="219.12" x2="643.25" y2="219.12" stroke="#3a76b8" stroke-width="1.0" />
<polygon points="641.45,210.3 644.95,214.3 641.45,218.3 637.95,214.3" fill="#fff" stroke="#3a76b8" stroke-width="1"/>
<polygon points="641.45,210.3 641.45,218.3 637.95,214.3" fill="#3a76b8"/>
<line x1="667.9" y1="195.99" x2="667.9" y2="209.27" stroke="#3a76b8" stroke-width="1.0" />
<line x1="666.1" y1="195.99" x2="669.7" y2="195.99" stroke="#3a76b8" stroke-width="1.0" />
<line x1="666.1" y1="209.27" x2="669.7" y2="209.27" stroke="#3a76b8" stroke-width="1.0" />
<polygon points="667.9,198.63 671.4,202.63 667.9,206.63 664.4,202.63" fill="#fff" stroke="#3a76b8" stroke-width="1"/>
<polygon points="667.9,198.63 667.9,206.63 664.4,202.63" fill="#3a76b8"/>
<rect x="495.5" y="185.4" width="185.9" height="130" fill="none" stroke="#262626" stroke-width="1.25"/>
<line x1="495.5" y1="315" x2="497.8" y2="315" stroke="#262626" stroke-width="0.9" />
<line x1="495.5" y1="294.88" x2="497.8" y2="294.88" stroke="#262626" stroke-width="0.9" />
<line x1="495.5" y1="274.76" x2="497.8" y2="274.76" stroke="#262626" stroke-width="0.9" />
<line x1="495.5" y1="254.64" x2="497.8" y2="254.64" stroke="#262626" stroke-width="0.9" />
<line x1="495.5" y1="234.52" x2="497.8" y2="234.52" stroke="#262626" stroke-width="0.9" />
<line x1="495.5" y1="214.4" x2="497.8" y2="214.4" stroke="#262626" stroke-width="0.9" />
<line x1="495.5" y1="194.28" x2="497.8" y2="194.28" stroke="#262626" stroke-width="0.9" />
<line x1="495.5" y1="304.94" x2="496.9" y2="304.94" stroke="#262626" stroke-width="0.9" />
<line x1="495.5" y1="284.82" x2="496.9" y2="284.82" stroke="#262626" stroke-width="0.9" />
<line x1="495.5" y1="264.7" x2="496.9" y2="264.7" stroke="#262626" stroke-width="0.9" />
<line x1="495.5" y1="244.58" x2="496.9" y2="244.58" stroke="#262626" stroke-width="0.9" />
<line x1="495.5" y1="224.46" x2="496.9" y2="224.46" stroke="#262626" stroke-width="0.9" />
<line x1="495.5" y1="204.34" x2="496.9" y2="204.34" stroke="#262626" stroke-width="0.9" />
<line x1="509.2" y1="315.4" x2="509.2" y2="313.1" stroke="#262626" stroke-width="0.9" />
<line x1="535.65" y1="315.4" x2="535.65" y2="313.1" stroke="#262626" stroke-width="0.9" />
<line x1="562.1" y1="315.4" x2="562.1" y2="313.1" stroke="#262626" stroke-width="0.9" />
<line x1="588.55" y1="315.4" x2="588.55" y2="313.1" stroke="#262626" stroke-width="0.9" />
<line x1="615" y1="315.4" x2="615" y2="313.1" stroke="#262626" stroke-width="0.9" />
<line x1="641.45" y1="315.4" x2="641.45" y2="313.1" stroke="#262626" stroke-width="0.9" />
<line x1="667.9" y1="315.4" x2="667.9" y2="313.1" stroke="#262626" stroke-width="0.9" />
<line x1="495.97" y1="315.4" x2="495.97" y2="314" stroke="#262626" stroke-width="0.9" />
<line x1="522.42" y1="315.4" x2="522.42" y2="314" stroke="#262626" stroke-width="0.9" />
<line x1="548.88" y1="315.4" x2="548.88" y2="314" stroke="#262626" stroke-width="0.9" />
<line x1="575.33" y1="315.4" x2="575.33" y2="314" stroke="#262626" stroke-width="0.9" />
<line x1="601.77" y1="315.4" x2="601.77" y2="314" stroke="#262626" stroke-width="0.9" />
<line x1="628.23" y1="315.4" x2="628.23" y2="314" stroke="#262626" stroke-width="0.9" />
<line x1="654.67" y1="315.4" x2="654.67" y2="314" stroke="#262626" stroke-width="0.9" />
<line x1="681.12" y1="315.4" x2="681.12" y2="314" stroke="#262626" stroke-width="0.9" />
<text x="492.2" y="317.4" font-family='"Liberation Sans", sans-serif' font-size="6.9" font-weight="bold" text-anchor="end" fill="#111" stroke="#111" stroke-width="0.18" >0</text>
<text x="492.2" y="297.28" font-family='"Liberation Sans", sans-serif' font-size="6.9" font-weight="bold" text-anchor="end" fill="#111" stroke="#111" stroke-width="0.18" >10</text>
<text x="492.2" y="277.16" font-family='"Liberation Sans", sans-serif' font-size="6.9" font-weight="bold" text-anchor="end" fill="#111" stroke="#111" stroke-width="0.18" >20</text>
<text x="492.2" y="257.04" font-family='"Liberation Sans", sans-serif' font-size="6.9" font-weight="bold" text-anchor="end" fill="#111" stroke="#111" stroke-width="0.18" >30</text>
<text x="492.2" y="236.92" font-family='"Liberation Sans", sans-serif' font-size="6.9" font-weight="bold" text-anchor="end" fill="#111" stroke="#111" stroke-width="0.18" >40</text>
<text x="492.2" y="216.8" font-family='"Liberation Sans", sans-serif' font-size="6.9" font-weight="bold" text-anchor="end" fill="#111" stroke="#111" stroke-width="0.18" >50</text>
<text x="492.2" y="196.68" font-family='"Liberation Sans", sans-serif' font-size="6.9" font-weight="bold" text-anchor="end" fill="#111" stroke="#111" stroke-width="0.18" >60</text>
<text x="509.2" y="323.8" font-family='"Liberation Sans", sans-serif' font-size="6.9" font-weight="bold" text-anchor="middle" fill="#111" stroke="#111" stroke-width="0.18" >0</text>
<text x="535.65" y="323.8" font-family='"Liberation Sans", sans-serif' font-size="6.9" font-weight="bold" text-anchor="middle" fill="#111" stroke="#111" stroke-width="0.18" >50</text>
<text x="562.1" y="323.8" font-family='"Liberation Sans", sans-serif' font-size="6.9" font-weight="bold" text-anchor="middle" fill="#111" stroke="#111" stroke-width="0.18" >100</text>
<text x="588.55" y="323.8" font-family='"Liberation Sans", sans-serif' font-size="6.9" font-weight="bold" text-anchor="middle" fill="#111" stroke="#111" stroke-width="0.18" >150</text>
<text x="615" y="323.8" font-family='"Liberation Sans", sans-serif' font-size="6.9" font-weight="bold" text-anchor="middle" fill="#111" stroke="#111" stroke-width="0.18" >200</text>
<text x="641.45" y="323.8" font-family='"Liberation Sans", sans-serif' font-size="6.9" font-weight="bold" text-anchor="middle" fill="#111" stroke="#111" stroke-width="0.18" >250</text>
<text x="667.9" y="323.8" font-family='"Liberation Sans", sans-serif' font-size="6.9" font-weight="bold" text-anchor="middle" fill="#111" stroke="#111" stroke-width="0.18" >300</text>
<text x="560.3" y="333.6" font-family='"Liberation Sans", sans-serif' font-size="8.25" font-weight="bold" text-anchor="start" fill="#111" stroke="#111" stroke-width="0.18" >Temperature (K)</text>
<text transform="translate(479,249.1) rotate(-90)" font-family='"Liberation Sans", sans-serif' font-size="8.6" font-weight="bold" text-anchor="middle" fill="#111" stroke="#111" stroke-width="0.18">Remnant Polarization (μC/cm<tspan dy="-3" font-size="5.8">2</tspan><tspan dy="3">)</tspan></text>
</svg>
</body></html>
